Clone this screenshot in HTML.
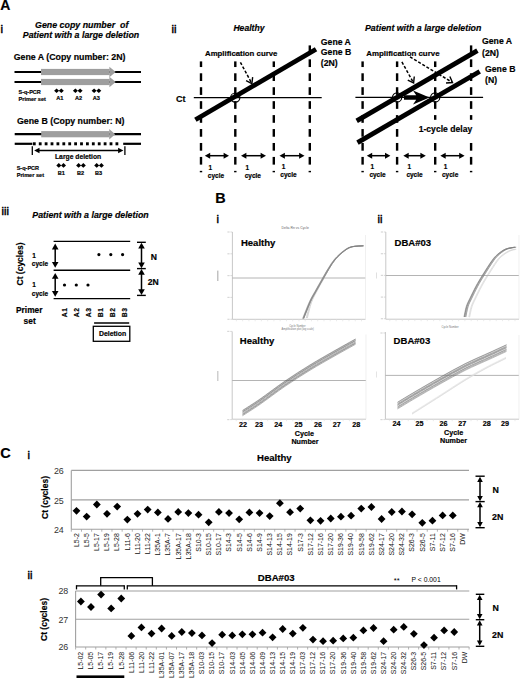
<!DOCTYPE html>
<html><head><meta charset="utf-8"><style>
html,body{margin:0;padding:0;background:#fff;}
body{width:520px;height:678px;overflow:hidden;}
svg{display:block;font-family:"Liberation Sans", sans-serif;}
</style></head><body>
<svg width="520" height="678" viewBox="0 0 520 678" font-family='"Liberation Sans", sans-serif'>
<rect width="520" height="678" fill="#fff"/>
<text x="0.3" y="10.4" font-size="14" font-weight="bold" font-style="normal" text-anchor="start" fill="#000" stroke="#000" stroke-width="0.18" >A</text>
<text x="0.6" y="32.9" font-size="11.5" font-weight="normal" font-style="normal" text-anchor="start" fill="#000" stroke="#000" stroke-width="0.45">i</text>
<text x="35" y="27.5" font-size="8.85" font-weight="bold" font-style="italic" text-anchor="start" fill="#000" stroke="#000" stroke-width="0.18" >Gene copy number  of</text>
<text x="22.8" y="38" font-size="8.8" font-weight="bold" font-style="italic" text-anchor="start" fill="#000" stroke="#000" stroke-width="0.18" >Patient with a large deletion</text>
<text x="13.7" y="59.8" font-size="8.8" font-weight="bold" font-style="normal" text-anchor="start" fill="#000" stroke="#000" stroke-width="0.18" >Gene A (Copy number: 2N)</text>
<line x1="14.5" y1="72" x2="141" y2="72" stroke="#000" stroke-width="2.2" />
<rect x="41" y="68.9" width="68.6" height="6.2" fill="#9e9e9e" />
<polygon points="109.40,66.80 115.70,72.00 109.40,77.20" fill="#9e9e9e" />
<line x1="14.5" y1="82" x2="141" y2="82" stroke="#000" stroke-width="2.2" />
<rect x="41" y="78.9" width="68.6" height="6.2" fill="#9e9e9e" />
<polygon points="109.40,76.80 115.70,82.00 109.40,87.20" fill="#9e9e9e" />
<text x="18.5" y="93.5" font-size="5.5" font-weight="bold" font-style="normal" text-anchor="start" fill="#000" stroke="#000" stroke-width="0.18" >S-q-PCR</text>
<text x="18.5" y="100.9" font-size="5.6" font-weight="bold" font-style="normal" text-anchor="start" fill="#000" stroke="#000" stroke-width="0.18" >Primer set</text>
<polygon points="56.60,88.50 59.10,90.80 56.60,93.10 54.10,90.80" fill="#000" />
<polygon points="61.30,88.50 63.80,90.80 61.30,93.10 58.80,90.80" fill="#000" />
<text x="56.2" y="99.7" font-size="5.6" font-weight="bold" font-style="normal" text-anchor="start" fill="#000" stroke="#000" stroke-width="0.18" >A1</text>
<polygon points="75.40,88.50 77.90,90.80 75.40,93.10 72.90,90.80" fill="#000" />
<polygon points="80.10,88.50 82.60,90.80 80.10,93.10 77.60,90.80" fill="#000" />
<text x="75.0" y="99.7" font-size="5.6" font-weight="bold" font-style="normal" text-anchor="start" fill="#000" stroke="#000" stroke-width="0.18" >A2</text>
<polygon points="94.10,88.50 96.60,90.80 94.10,93.10 91.60,90.80" fill="#000" />
<polygon points="98.80,88.50 101.30,90.80 98.80,93.10 96.30,90.80" fill="#000" />
<text x="92.7" y="99.7" font-size="5.6" font-weight="bold" font-style="normal" text-anchor="start" fill="#000" stroke="#000" stroke-width="0.18" >A3</text>
<text x="17" y="123.5" font-size="8.8" font-weight="bold" font-style="normal" text-anchor="start" fill="#000" stroke="#000" stroke-width="0.18" >Gene B (Copy number: N)</text>
<line x1="14.7" y1="134.2" x2="141" y2="134.2" stroke="#000" stroke-width="2.2" />
<rect x="41.2" y="131.1" width="68.0" height="6.2" fill="#9e9e9e" />
<polygon points="109.20,129.00 115.20,134.20 109.20,139.40" fill="#9e9e9e" />
<line x1="14.7" y1="143.8" x2="32.3" y2="143.8" stroke="#000" stroke-width="2.2" />
<line x1="123.2" y1="143.8" x2="141" y2="143.8" stroke="#000" stroke-width="2.2" />
<rect x="32.9" y="142.3" width="2.8" height="3.0" fill="#000" />
<rect x="38.8" y="142.3" width="2.8" height="3.0" fill="#000" />
<rect x="44.699999999999996" y="142.3" width="2.8" height="3.0" fill="#000" />
<rect x="50.599999999999994" y="142.3" width="2.8" height="3.0" fill="#000" />
<rect x="56.49999999999999" y="142.3" width="2.8" height="3.0" fill="#000" />
<rect x="62.39999999999999" y="142.3" width="2.8" height="3.0" fill="#000" />
<rect x="68.3" y="142.3" width="2.8" height="3.0" fill="#000" />
<rect x="74.2" y="142.3" width="2.8" height="3.0" fill="#000" />
<rect x="80.10000000000001" y="142.3" width="2.8" height="3.0" fill="#000" />
<rect x="86.00000000000001" y="142.3" width="2.8" height="3.0" fill="#000" />
<rect x="91.90000000000002" y="142.3" width="2.8" height="3.0" fill="#000" />
<rect x="97.80000000000003" y="142.3" width="2.8" height="3.0" fill="#000" />
<rect x="103.70000000000003" y="142.3" width="2.8" height="3.0" fill="#000" />
<rect x="109.60000000000004" y="142.3" width="2.8" height="3.0" fill="#000" />
<rect x="115.50000000000004" y="142.3" width="2.8" height="3.0" fill="#000" />
<line x1="32.3" y1="146.2" x2="32.3" y2="155" stroke="#000" stroke-width="1.3" />
<line x1="124.9" y1="146.2" x2="124.9" y2="155" stroke="#000" stroke-width="1.3" />
<line x1="38.440000000000005" y1="150.5" x2="119.16000000000001" y2="150.5" stroke="#000" stroke-width="1.5" />
<polygon points="123.40,150.50 118.10,147.80 118.10,153.20" fill="#000" />
<polygon points="34.20,150.50 39.50,147.80 39.50,153.20" fill="#000" />
<text x="55" y="159" font-size="6.75" font-weight="bold" font-style="normal" text-anchor="start" fill="#000" stroke="#000" stroke-width="0.18" >Large deletion</text>
<text x="16.7" y="170" font-size="5.5" font-weight="bold" font-style="normal" text-anchor="start" fill="#000" stroke="#000" stroke-width="0.18" >S-q-PCR</text>
<text x="16.7" y="176.6" font-size="5.6" font-weight="bold" font-style="normal" text-anchor="start" fill="#000" stroke="#000" stroke-width="0.18" >Primer set</text>
<polygon points="58.80,163.10 61.30,165.40 58.80,167.70 56.30,165.40" fill="#000" />
<polygon points="63.50,163.10 66.00,165.40 63.50,167.70 61.00,165.40" fill="#000" />
<text x="57.8" y="175.2" font-size="5.6" font-weight="bold" font-style="normal" text-anchor="start" fill="#000" stroke="#000" stroke-width="0.18" >B1</text>
<polygon points="78.60,163.10 81.10,165.40 78.60,167.70 76.10,165.40" fill="#000" />
<polygon points="83.30,163.10 85.80,165.40 83.30,167.70 80.80,165.40" fill="#000" />
<text x="77.0" y="175.2" font-size="5.6" font-weight="bold" font-style="normal" text-anchor="start" fill="#000" stroke="#000" stroke-width="0.18" >B2</text>
<polygon points="96.70,163.10 99.20,165.40 96.70,167.70 94.20,165.40" fill="#000" />
<polygon points="101.40,163.10 103.90,165.40 101.40,167.70 98.90,165.40" fill="#000" />
<text x="95.0" y="175.2" font-size="5.6" font-weight="bold" font-style="normal" text-anchor="start" fill="#000" stroke="#000" stroke-width="0.18" >B3</text>
<text x="171.6" y="33.3" font-size="11.3" font-weight="normal" font-style="normal" text-anchor="start" fill="#000" stroke="#000" stroke-width="0.45">ii</text>
<text x="233.4" y="31.2" font-size="8.6" font-weight="bold" font-style="italic" text-anchor="start" fill="#000" stroke="#000" stroke-width="0.18" >Healthy</text>
<text x="205" y="56.1" font-size="7.8" font-weight="bold" font-style="normal" text-anchor="start" fill="#000" stroke="#000" stroke-width="0.18" >Amplification curve</text>
<rect x="199.8" y="61.4" width="2.4" height="5.6399999999999935" fill="#000" />
<rect x="199.8" y="73.28" width="2.4" height="7.700000000000003" fill="#000" />
<rect x="199.8" y="87.22" width="2.4" height="7.700000000000003" fill="#000" />
<rect x="199.8" y="101.16" width="2.4" height="7.700000000000003" fill="#000" />
<rect x="199.8" y="115.1" width="2.4" height="7.700000000000003" fill="#000" />
<rect x="199.8" y="129.04" width="2.4" height="7.699999999999989" fill="#000" />
<rect x="199.8" y="142.98" width="2.4" height="7.699999999999989" fill="#000" />
<rect x="199.8" y="156.92" width="2.4" height="7.699999999999989" fill="#000" />
<rect x="199.8" y="170.85999999999999" width="2.4" height="1.4400000000000261" fill="#000" />
<rect x="234.10000000000002" y="61.4" width="2.4" height="5.6399999999999935" fill="#000" />
<rect x="234.10000000000002" y="73.28" width="2.4" height="7.700000000000003" fill="#000" />
<rect x="234.10000000000002" y="87.22" width="2.4" height="7.700000000000003" fill="#000" />
<rect x="234.10000000000002" y="101.16" width="2.4" height="7.700000000000003" fill="#000" />
<rect x="234.10000000000002" y="115.1" width="2.4" height="7.700000000000003" fill="#000" />
<rect x="234.10000000000002" y="129.04" width="2.4" height="7.699999999999989" fill="#000" />
<rect x="234.10000000000002" y="142.98" width="2.4" height="7.699999999999989" fill="#000" />
<rect x="234.10000000000002" y="156.92" width="2.4" height="7.699999999999989" fill="#000" />
<rect x="234.10000000000002" y="170.85999999999999" width="2.4" height="1.4400000000000261" fill="#000" />
<rect x="272.6" y="61.4" width="2.4" height="5.6399999999999935" fill="#000" />
<rect x="272.6" y="73.28" width="2.4" height="7.700000000000003" fill="#000" />
<rect x="272.6" y="87.22" width="2.4" height="7.700000000000003" fill="#000" />
<rect x="272.6" y="101.16" width="2.4" height="7.700000000000003" fill="#000" />
<rect x="272.6" y="115.1" width="2.4" height="7.700000000000003" fill="#000" />
<rect x="272.6" y="129.04" width="2.4" height="7.699999999999989" fill="#000" />
<rect x="272.6" y="142.98" width="2.4" height="7.699999999999989" fill="#000" />
<rect x="272.6" y="156.92" width="2.4" height="7.699999999999989" fill="#000" />
<rect x="272.6" y="170.85999999999999" width="2.4" height="1.4400000000000261" fill="#000" />
<rect x="308.6" y="45.4" width="2.4" height="7.700000000000003" fill="#000" />
<rect x="308.6" y="59.339999999999996" width="2.4" height="7.699999999999996" fill="#000" />
<rect x="308.6" y="73.28" width="2.4" height="7.700000000000003" fill="#000" />
<rect x="308.6" y="87.22" width="2.4" height="7.700000000000003" fill="#000" />
<rect x="308.6" y="101.16" width="2.4" height="7.700000000000003" fill="#000" />
<rect x="308.6" y="115.1" width="2.4" height="7.700000000000003" fill="#000" />
<rect x="308.6" y="129.04" width="2.4" height="7.699999999999989" fill="#000" />
<rect x="308.6" y="142.98" width="2.4" height="7.699999999999989" fill="#000" />
<rect x="308.6" y="156.92" width="2.4" height="7.699999999999989" fill="#000" />
<rect x="308.6" y="170.85999999999999" width="2.4" height="1.4400000000000261" fill="#000" />
<text x="176" y="101.7" font-size="9" font-weight="bold" font-style="normal" text-anchor="start" fill="#000" stroke="#000" stroke-width="0.18" >Ct</text>
<line x1="193.8" y1="97.6" x2="321.7" y2="97.6" stroke="#000" stroke-width="1.1" />
<line x1="195.4" y1="119.8" x2="316" y2="49.2" stroke="#000" stroke-width="4.8" />
<circle cx="235.3" cy="97.6" r="4.6" fill="none" stroke="#000" stroke-width="1.2"/>
<line x1="240.4" y1="62.3" x2="251.61494903382723" y2="83.07203603656691" stroke="#000" stroke-width="1.5" stroke-dasharray="3 1.8"/>
<polyline points="252.65,77.14 251.9,83.6 246.09,80.69" fill="none" stroke="#000" stroke-width="1.4" stroke-linejoin="miter"/>
<text x="320.8" y="44.6" font-size="8.7" font-weight="bold" font-style="normal" text-anchor="start" fill="#000" stroke="#000" stroke-width="0.18" >Gene A</text>
<text x="320.8" y="55.2" font-size="8.7" font-weight="bold" font-style="normal" text-anchor="start" fill="#000" stroke="#000" stroke-width="0.18" >Gene B</text>
<text x="320.8" y="65.8" font-size="8.7" font-weight="bold" font-style="normal" text-anchor="start" fill="#000" stroke="#000" stroke-width="0.18" >(2N)</text>
<line x1="209.12" y1="155.7" x2="224.68" y2="155.7" stroke="#000" stroke-width="1.5" />
<polygon points="229.00,155.70 223.60,152.70 223.60,158.70" fill="#000" />
<polygon points="204.80,155.70 210.20,152.70 210.20,158.70" fill="#000" />
<line x1="245.32" y1="155.7" x2="261.68" y2="155.7" stroke="#000" stroke-width="1.5" />
<polygon points="266.00,155.70 260.60,152.70 260.60,158.70" fill="#000" />
<polygon points="241.00,155.70 246.40,152.70 246.40,158.70" fill="#000" />
<line x1="283.82" y1="155.7" x2="300.18" y2="155.7" stroke="#000" stroke-width="1.5" />
<polygon points="304.50,155.70 299.10,152.70 299.10,158.70" fill="#000" />
<polygon points="279.50,155.70 284.90,152.70 284.90,158.70" fill="#000" />
<text x="208.6" y="169.9" font-size="6.5" font-weight="bold" font-style="normal" text-anchor="start" fill="#000" stroke="#000" stroke-width="0.18" >1</text>
<text x="207.8" y="178" font-size="6.5" font-weight="bold" font-style="normal" text-anchor="start" fill="#000" stroke="#000" stroke-width="0.18" >cycle</text>
<text x="245.5" y="169.9" font-size="6.5" font-weight="bold" font-style="normal" text-anchor="start" fill="#000" stroke="#000" stroke-width="0.18" >1</text>
<text x="244.7" y="178" font-size="6.5" font-weight="bold" font-style="normal" text-anchor="start" fill="#000" stroke="#000" stroke-width="0.18" >cycle</text>
<text x="281.8" y="168.9" font-size="6.5" font-weight="bold" font-style="normal" text-anchor="start" fill="#000" stroke="#000" stroke-width="0.18" >1</text>
<text x="280.3" y="177" font-size="6.5" font-weight="bold" font-style="normal" text-anchor="start" fill="#000" stroke="#000" stroke-width="0.18" >cycle</text>
<text x="365" y="31" font-size="8.8" font-weight="bold" font-style="italic" text-anchor="start" fill="#000" stroke="#000" stroke-width="0.18" >Patient with a large deletion</text>
<text x="366.3" y="55.8" font-size="7.9" font-weight="bold" font-style="normal" text-anchor="start" fill="#000" stroke="#000" stroke-width="0.18" >Amplification curve</text>
<rect x="361.40000000000003" y="61.4" width="2.4" height="5.6399999999999935" fill="#000" />
<rect x="361.40000000000003" y="73.28" width="2.4" height="7.700000000000003" fill="#000" />
<rect x="361.40000000000003" y="87.22" width="2.4" height="7.700000000000003" fill="#000" />
<rect x="361.40000000000003" y="101.16" width="2.4" height="7.700000000000003" fill="#000" />
<rect x="361.40000000000003" y="115.1" width="2.4" height="7.700000000000003" fill="#000" />
<rect x="361.40000000000003" y="129.04" width="2.4" height="7.699999999999989" fill="#000" />
<rect x="361.40000000000003" y="142.98" width="2.4" height="7.699999999999989" fill="#000" />
<rect x="361.40000000000003" y="156.92" width="2.4" height="7.699999999999989" fill="#000" />
<rect x="361.40000000000003" y="170.85999999999999" width="2.4" height="1.4400000000000261" fill="#000" />
<rect x="395.90000000000003" y="61.4" width="2.4" height="5.6399999999999935" fill="#000" />
<rect x="395.90000000000003" y="73.28" width="2.4" height="7.700000000000003" fill="#000" />
<rect x="395.90000000000003" y="87.22" width="2.4" height="7.700000000000003" fill="#000" />
<rect x="395.90000000000003" y="101.16" width="2.4" height="7.700000000000003" fill="#000" />
<rect x="395.90000000000003" y="115.1" width="2.4" height="7.700000000000003" fill="#000" />
<rect x="395.90000000000003" y="129.04" width="2.4" height="7.699999999999989" fill="#000" />
<rect x="395.90000000000003" y="142.98" width="2.4" height="7.699999999999989" fill="#000" />
<rect x="395.90000000000003" y="156.92" width="2.4" height="7.699999999999989" fill="#000" />
<rect x="395.90000000000003" y="170.85999999999999" width="2.4" height="1.4400000000000261" fill="#000" />
<rect x="434.0" y="61.4" width="2.4" height="5.6399999999999935" fill="#000" />
<rect x="434.0" y="73.28" width="2.4" height="7.700000000000003" fill="#000" />
<rect x="434.0" y="87.22" width="2.4" height="7.700000000000003" fill="#000" />
<rect x="434.0" y="101.16" width="2.4" height="7.700000000000003" fill="#000" />
<rect x="434.0" y="115.1" width="2.4" height="7.700000000000003" fill="#000" />
<rect x="434.0" y="129.04" width="2.4" height="7.699999999999989" fill="#000" />
<rect x="434.0" y="142.98" width="2.4" height="7.699999999999989" fill="#000" />
<rect x="434.0" y="156.92" width="2.4" height="7.699999999999989" fill="#000" />
<rect x="434.0" y="170.85999999999999" width="2.4" height="1.4400000000000261" fill="#000" />
<rect x="469.90000000000003" y="45.4" width="2.4" height="7.700000000000003" fill="#000" />
<rect x="469.90000000000003" y="59.339999999999996" width="2.4" height="7.699999999999996" fill="#000" />
<rect x="469.90000000000003" y="73.28" width="2.4" height="7.700000000000003" fill="#000" />
<rect x="469.90000000000003" y="87.22" width="2.4" height="7.700000000000003" fill="#000" />
<rect x="469.90000000000003" y="101.16" width="2.4" height="7.700000000000003" fill="#000" />
<rect x="469.90000000000003" y="115.1" width="2.4" height="7.700000000000003" fill="#000" />
<rect x="469.90000000000003" y="129.04" width="2.4" height="7.699999999999989" fill="#000" />
<rect x="469.90000000000003" y="142.98" width="2.4" height="7.699999999999989" fill="#000" />
<rect x="469.90000000000003" y="156.92" width="2.4" height="7.699999999999989" fill="#000" />
<rect x="469.90000000000003" y="170.85999999999999" width="2.4" height="1.4400000000000261" fill="#000" />
<line x1="355.4" y1="97.4" x2="483.1" y2="97.4" stroke="#000" stroke-width="1.1" />
<line x1="356.7" y1="120.91280000000003" x2="477.4" y2="50.665400000000034" stroke="#000" stroke-width="4.8" />
<line x1="357.5" y1="142.6214" x2="479.7" y2="71.501" stroke="#000" stroke-width="4.8" />
<circle cx="397.1" cy="97.4" r="4.6" fill="none" stroke="#000" stroke-width="1.2"/>
<circle cx="435.2" cy="97.4" r="4.6" fill="none" stroke="#000" stroke-width="1.2"/>
<polygon points="404.00,95.30 416.20,95.30 413.00,90.40 429.50,97.50 413.00,104.60 416.20,99.70 404.00,99.70" fill="#000" />
<line x1="401.9" y1="61.9" x2="413.3090366338055" y2="82.47527119429868" stroke="#000" stroke-width="1.5" stroke-dasharray="3 1.8"/>
<polyline points="414.28,76.54 413.6,83.0 407.76,80.15" fill="none" stroke="#000" stroke-width="1.4" stroke-linejoin="miter"/>
<line x1="410.0" y1="56.9" x2="451.9860385369942" y2="82.1904138011071" stroke="#000" stroke-width="1.5" stroke-dasharray="3 1.8"/>
<polyline points="449.86,76.56 452.5,82.5 446.02,82.95" fill="none" stroke="#000" stroke-width="1.4" stroke-linejoin="miter"/>
<text x="482" y="44.2" font-size="8.7" font-weight="bold" font-style="normal" text-anchor="start" fill="#000" stroke="#000" stroke-width="0.18" >Gene A</text>
<text x="482" y="55.8" font-size="8.7" font-weight="bold" font-style="normal" text-anchor="start" fill="#000" stroke="#000" stroke-width="0.18" >(2N)</text>
<text x="485" y="72" font-size="8.7" font-weight="bold" font-style="normal" text-anchor="start" fill="#000" stroke="#000" stroke-width="0.18" >Gene B</text>
<text x="485" y="82.8" font-size="8.7" font-weight="bold" font-style="normal" text-anchor="start" fill="#000" stroke="#000" stroke-width="0.18" >(N)</text>
<rect x="417" y="119.8" width="58" height="22.8" fill="#fff" />
<text x="418.7" y="131.9" font-size="8.6" font-weight="bold" font-style="normal" text-anchor="start" fill="#000" stroke="#000" stroke-width="0.18" >1-cycle delay</text>
<line x1="371.12" y1="155.7" x2="386.08" y2="155.7" stroke="#000" stroke-width="1.5" />
<polygon points="390.40,155.70 385.00,152.70 385.00,158.70" fill="#000" />
<polygon points="366.80,155.70 372.20,152.70 372.20,158.70" fill="#000" />
<line x1="407.62" y1="155.7" x2="421.48" y2="155.7" stroke="#000" stroke-width="1.5" />
<polygon points="425.80,155.70 420.40,152.70 420.40,158.70" fill="#000" />
<polygon points="403.30,155.70 408.70,152.70 408.70,158.70" fill="#000" />
<line x1="444.62" y1="155.7" x2="460.28000000000003" y2="155.7" stroke="#000" stroke-width="1.5" />
<polygon points="464.60,155.70 459.20,152.70 459.20,158.70" fill="#000" />
<polygon points="440.30,155.70 445.70,152.70 445.70,158.70" fill="#000" />
<text x="370.4" y="169.3" font-size="6.5" font-weight="bold" font-style="normal" text-anchor="start" fill="#000" stroke="#000" stroke-width="0.18" >1</text>
<text x="369.4" y="177.4" font-size="6.5" font-weight="bold" font-style="normal" text-anchor="start" fill="#000" stroke="#000" stroke-width="0.18" >cycle</text>
<text x="407.5" y="169.3" font-size="6.5" font-weight="bold" font-style="normal" text-anchor="start" fill="#000" stroke="#000" stroke-width="0.18" >1</text>
<text x="406.4" y="177.4" font-size="6.5" font-weight="bold" font-style="normal" text-anchor="start" fill="#000" stroke="#000" stroke-width="0.18" >cycle</text>
<text x="443.8" y="168.5" font-size="6.5" font-weight="bold" font-style="normal" text-anchor="start" fill="#000" stroke="#000" stroke-width="0.18" >1</text>
<text x="442.0" y="176.6" font-size="6.5" font-weight="bold" font-style="normal" text-anchor="start" fill="#000" stroke="#000" stroke-width="0.18" >cycle</text>
<text x="1.5" y="214.6" font-size="11" font-weight="normal" font-style="normal" text-anchor="start" fill="#000" stroke="#000" stroke-width="0.45">iii</text>
<text x="32.3" y="217.8" font-size="8.8" font-weight="bold" font-style="italic" text-anchor="start" fill="#000" stroke="#000" stroke-width="0.18" >Patient with a large deletion</text>
<line x1="53.6" y1="241.4" x2="130.2" y2="241.4" stroke="#000" stroke-width="1.4" />
<line x1="53.6" y1="270.2" x2="130.2" y2="270.2" stroke="#000" stroke-width="1.4" />
<line x1="53.6" y1="298.6" x2="130.2" y2="298.6" stroke="#000" stroke-width="1.4" />
<line x1="55.2" y1="248.23999999999998" x2="55.2" y2="263.16" stroke="#000" stroke-width="1.5" />
<polygon points="55.20,243.60 51.90,249.40 58.50,249.40" fill="#000" />
<polygon points="55.20,267.80 51.90,262.00 58.50,262.00" fill="#000" />
<line x1="55.2" y1="277.64" x2="55.2" y2="292.16" stroke="#000" stroke-width="1.5" />
<polygon points="55.20,273.00 51.90,278.80 58.50,278.80" fill="#000" />
<polygon points="55.20,296.80 51.90,291.00 58.50,291.00" fill="#000" />
<text x="32.3" y="258.0" font-size="6.5" font-weight="bold" font-style="normal" text-anchor="start" fill="#000" stroke="#000" stroke-width="0.18" >1</text>
<text x="31.8" y="266.3" font-size="6.5" font-weight="bold" font-style="normal" text-anchor="start" fill="#000" stroke="#000" stroke-width="0.18" >cycle</text>
<text x="32.3" y="287.2" font-size="6.5" font-weight="bold" font-style="normal" text-anchor="start" fill="#000" stroke="#000" stroke-width="0.18" >1</text>
<text x="31.8" y="295.9" font-size="6.5" font-weight="bold" font-style="normal" text-anchor="start" fill="#000" stroke="#000" stroke-width="0.18" >cycle</text>
<circle cx="98.9" cy="254.6" r="1.6" fill="#000"/>
<circle cx="110.8" cy="254.6" r="1.6" fill="#000"/>
<circle cx="122.6" cy="254.6" r="1.6" fill="#000"/>
<circle cx="64.5" cy="285" r="1.6" fill="#000"/>
<circle cx="76.3" cy="285" r="1.6" fill="#000"/>
<circle cx="88.0" cy="285" r="1.6" fill="#000"/>
<line x1="137" y1="242.3" x2="145.8" y2="242.3" stroke="#000" stroke-width="1.4" />
<line x1="137" y1="268.6" x2="145.8" y2="268.6" stroke="#000" stroke-width="1.4" />
<line x1="137" y1="295.4" x2="145.8" y2="295.4" stroke="#000" stroke-width="1.4" />
<line x1="141.5" y1="247.44" x2="141.5" y2="263.56" stroke="#000" stroke-width="1.5" />
<polygon points="141.50,242.80 138.20,248.60 144.80,248.60" fill="#000" />
<polygon points="141.50,268.20 138.20,262.40 144.80,262.40" fill="#000" />
<line x1="141.5" y1="273.64" x2="141.5" y2="290.36" stroke="#000" stroke-width="1.5" />
<polygon points="141.50,269.00 138.20,274.80 144.80,274.80" fill="#000" />
<polygon points="141.50,295.00 138.20,289.20 144.80,289.20" fill="#000" />
<text x="150.8" y="259.5" font-size="8.6" font-weight="bold" font-style="normal" text-anchor="start" fill="#000" stroke="#000" stroke-width="0.18" >N</text>
<text x="147.7" y="284.6" font-size="8.6" font-weight="bold" font-style="normal" text-anchor="start" fill="#000" stroke="#000" stroke-width="0.18" >2N</text>
<text transform="translate(22.6,285.5) rotate(-90)" font-size="8.5" font-weight="bold" stroke="#000" stroke-width="0.18">Ct (cycles)</text>
<text x="16" y="313" font-size="8.4" font-weight="bold" font-style="normal" text-anchor="start" fill="#000" stroke="#000" stroke-width="0.18" >Primer</text>
<text x="23.6" y="323.8" font-size="8.4" font-weight="bold" font-style="normal" text-anchor="start" fill="#000" stroke="#000" stroke-width="0.18" >set</text>
<text transform="translate(67.10000000000001,317.3) rotate(-90)" font-size="6.8" font-weight="bold" letter-spacing="0.6" stroke="#000" stroke-width="0.18">A1</text>
<text transform="translate(79.2,317.3) rotate(-90)" font-size="6.8" font-weight="bold" letter-spacing="0.6" stroke="#000" stroke-width="0.18">A2</text>
<text transform="translate(91.30000000000001,317.3) rotate(-90)" font-size="6.8" font-weight="bold" letter-spacing="0.6" stroke="#000" stroke-width="0.18">A3</text>
<text transform="translate(102.60000000000001,317.3) rotate(-90)" font-size="6.8" font-weight="bold" letter-spacing="0.6" stroke="#000" stroke-width="0.18">B1</text>
<text transform="translate(114.7,317.3) rotate(-90)" font-size="6.8" font-weight="bold" letter-spacing="0.6" stroke="#000" stroke-width="0.18">B2</text>
<text transform="translate(126.80000000000001,317.3) rotate(-90)" font-size="6.8" font-weight="bold" letter-spacing="0.6" stroke="#000" stroke-width="0.18">B3</text>
<line x1="94.1" y1="323" x2="129.2" y2="323" stroke="#000" stroke-width="1.5" />
<rect x="93.3" y="326.3" width="36.5" height="15" fill="none" stroke="#000" stroke-width="1.3"/>
<text x="99" y="335.6" font-size="6.9" font-weight="bold" font-style="normal" text-anchor="start" fill="#000" stroke="#000" stroke-width="0.18" >Deletion</text>
<text x="215.2" y="203.3" font-size="14.4" font-weight="bold" font-style="normal" text-anchor="start" fill="#000" stroke="#000" stroke-width="0.18" >B</text>
<text x="216.5" y="222.8" font-size="11" font-weight="normal" font-style="normal" text-anchor="start" fill="#000" stroke="#000" stroke-width="0.45">i</text>
<text x="377.5" y="222.8" font-size="11" font-weight="normal" font-style="normal" text-anchor="start" fill="#000" stroke="#000" stroke-width="0.45">ii</text>
<line x1="232.4" y1="232" x2="232.4" y2="319.3" stroke="#c8c8c8" stroke-width="1.0" />
<line x1="232.4" y1="319.3" x2="365.5" y2="319.3" stroke="#c8c8c8" stroke-width="1.0" />
<line x1="232.4" y1="278.0" x2="365.5" y2="278.0" stroke="#ababab" stroke-width="0.9" />
<line x1="365.5" y1="235" x2="365.5" y2="319.3" stroke="#e6e6e6" stroke-width="0.6" />
<line x1="230.4" y1="232" x2="232.4" y2="232" stroke="#c8c8c8" stroke-width="0.7" />
<rect x="227.4" y="231.4" width="2.2" height="1.2" fill="#d8d8d8" />
<line x1="230.4" y1="253.8" x2="232.4" y2="253.8" stroke="#c8c8c8" stroke-width="0.7" />
<rect x="227.4" y="253.20000000000002" width="2.2" height="1.2" fill="#d8d8d8" />
<line x1="230.4" y1="275.6" x2="232.4" y2="275.6" stroke="#c8c8c8" stroke-width="0.7" />
<rect x="227.4" y="275.0" width="2.2" height="1.2" fill="#d8d8d8" />
<line x1="230.4" y1="297.4" x2="232.4" y2="297.4" stroke="#c8c8c8" stroke-width="0.7" />
<rect x="227.4" y="296.79999999999995" width="2.2" height="1.2" fill="#d8d8d8" />
<line x1="230.4" y1="319.3" x2="232.4" y2="319.3" stroke="#c8c8c8" stroke-width="0.7" />
<rect x="227.4" y="318.7" width="2.2" height="1.2" fill="#d8d8d8" />
<line x1="236.4" y1="319.3" x2="236.4" y2="321.3" stroke="#dedede" stroke-width="0.6" />
<line x1="242.655" y1="319.3" x2="242.655" y2="321.3" stroke="#dedede" stroke-width="0.6" />
<line x1="248.91" y1="319.3" x2="248.91" y2="321.3" stroke="#dedede" stroke-width="0.6" />
<line x1="255.165" y1="319.3" x2="255.165" y2="321.3" stroke="#dedede" stroke-width="0.6" />
<line x1="261.42" y1="319.3" x2="261.42" y2="321.3" stroke="#dedede" stroke-width="0.6" />
<line x1="267.675" y1="319.3" x2="267.675" y2="321.3" stroke="#dedede" stroke-width="0.6" />
<line x1="273.93" y1="319.3" x2="273.93" y2="321.3" stroke="#dedede" stroke-width="0.6" />
<line x1="280.185" y1="319.3" x2="280.185" y2="321.3" stroke="#dedede" stroke-width="0.6" />
<line x1="286.44" y1="319.3" x2="286.44" y2="321.3" stroke="#dedede" stroke-width="0.6" />
<line x1="292.695" y1="319.3" x2="292.695" y2="321.3" stroke="#dedede" stroke-width="0.6" />
<line x1="298.95" y1="319.3" x2="298.95" y2="321.3" stroke="#dedede" stroke-width="0.6" />
<line x1="305.205" y1="319.3" x2="305.205" y2="321.3" stroke="#dedede" stroke-width="0.6" />
<line x1="311.46" y1="319.3" x2="311.46" y2="321.3" stroke="#dedede" stroke-width="0.6" />
<line x1="317.71500000000003" y1="319.3" x2="317.71500000000003" y2="321.3" stroke="#dedede" stroke-width="0.6" />
<line x1="323.97" y1="319.3" x2="323.97" y2="321.3" stroke="#dedede" stroke-width="0.6" />
<line x1="330.225" y1="319.3" x2="330.225" y2="321.3" stroke="#dedede" stroke-width="0.6" />
<line x1="336.48" y1="319.3" x2="336.48" y2="321.3" stroke="#dedede" stroke-width="0.6" />
<line x1="342.735" y1="319.3" x2="342.735" y2="321.3" stroke="#dedede" stroke-width="0.6" />
<line x1="348.99" y1="319.3" x2="348.99" y2="321.3" stroke="#dedede" stroke-width="0.6" />
<line x1="355.245" y1="319.3" x2="355.245" y2="321.3" stroke="#dedede" stroke-width="0.6" />
<line x1="361.5" y1="319.3" x2="361.5" y2="321.3" stroke="#dedede" stroke-width="0.6" />
<text x="281.5" y="229.3" font-size="3.45" font-weight="normal" font-style="normal" text-anchor="start" fill="#666" >Delta Rn vs Cycle</text>
<text x="240.9" y="246.2" font-size="9.55" font-weight="bold" font-style="normal" text-anchor="start" fill="#000" stroke="#000" stroke-width="0.18" >Healthy</text>
<line x1="385.8" y1="232" x2="385.8" y2="319.2" stroke="#c8c8c8" stroke-width="1.0" />
<line x1="385.8" y1="319.2" x2="519" y2="319.2" stroke="#c8c8c8" stroke-width="1.0" />
<line x1="385.8" y1="275.5" x2="519" y2="275.5" stroke="#ababab" stroke-width="0.9" />
<line x1="519" y1="235" x2="519" y2="319.2" stroke="#e6e6e6" stroke-width="0.6" />
<line x1="383.8" y1="232" x2="385.8" y2="232" stroke="#c8c8c8" stroke-width="0.7" />
<rect x="380.8" y="231.4" width="2.2" height="1.2" fill="#d8d8d8" />
<line x1="383.8" y1="253.7" x2="385.8" y2="253.7" stroke="#c8c8c8" stroke-width="0.7" />
<rect x="380.8" y="253.1" width="2.2" height="1.2" fill="#d8d8d8" />
<line x1="383.8" y1="275.4" x2="385.8" y2="275.4" stroke="#c8c8c8" stroke-width="0.7" />
<rect x="380.8" y="274.79999999999995" width="2.2" height="1.2" fill="#d8d8d8" />
<line x1="383.8" y1="297.1" x2="385.8" y2="297.1" stroke="#c8c8c8" stroke-width="0.7" />
<rect x="380.8" y="296.5" width="2.2" height="1.2" fill="#d8d8d8" />
<line x1="383.8" y1="318.7" x2="385.8" y2="318.7" stroke="#c8c8c8" stroke-width="0.7" />
<rect x="380.8" y="318.09999999999997" width="2.2" height="1.2" fill="#d8d8d8" />
<line x1="389.8" y1="319.2" x2="389.8" y2="321.2" stroke="#dedede" stroke-width="0.6" />
<line x1="396.06" y1="319.2" x2="396.06" y2="321.2" stroke="#dedede" stroke-width="0.6" />
<line x1="402.32" y1="319.2" x2="402.32" y2="321.2" stroke="#dedede" stroke-width="0.6" />
<line x1="408.58" y1="319.2" x2="408.58" y2="321.2" stroke="#dedede" stroke-width="0.6" />
<line x1="414.84000000000003" y1="319.2" x2="414.84000000000003" y2="321.2" stroke="#dedede" stroke-width="0.6" />
<line x1="421.1" y1="319.2" x2="421.1" y2="321.2" stroke="#dedede" stroke-width="0.6" />
<line x1="427.36" y1="319.2" x2="427.36" y2="321.2" stroke="#dedede" stroke-width="0.6" />
<line x1="433.62" y1="319.2" x2="433.62" y2="321.2" stroke="#dedede" stroke-width="0.6" />
<line x1="439.88" y1="319.2" x2="439.88" y2="321.2" stroke="#dedede" stroke-width="0.6" />
<line x1="446.14" y1="319.2" x2="446.14" y2="321.2" stroke="#dedede" stroke-width="0.6" />
<line x1="452.40000000000003" y1="319.2" x2="452.40000000000003" y2="321.2" stroke="#dedede" stroke-width="0.6" />
<line x1="458.65999999999997" y1="319.2" x2="458.65999999999997" y2="321.2" stroke="#dedede" stroke-width="0.6" />
<line x1="464.92" y1="319.2" x2="464.92" y2="321.2" stroke="#dedede" stroke-width="0.6" />
<line x1="471.18" y1="319.2" x2="471.18" y2="321.2" stroke="#dedede" stroke-width="0.6" />
<line x1="477.44" y1="319.2" x2="477.44" y2="321.2" stroke="#dedede" stroke-width="0.6" />
<line x1="483.7" y1="319.2" x2="483.7" y2="321.2" stroke="#dedede" stroke-width="0.6" />
<line x1="489.96000000000004" y1="319.2" x2="489.96000000000004" y2="321.2" stroke="#dedede" stroke-width="0.6" />
<line x1="496.22" y1="319.2" x2="496.22" y2="321.2" stroke="#dedede" stroke-width="0.6" />
<line x1="502.48" y1="319.2" x2="502.48" y2="321.2" stroke="#dedede" stroke-width="0.6" />
<line x1="508.74" y1="319.2" x2="508.74" y2="321.2" stroke="#dedede" stroke-width="0.6" />
<line x1="515.0" y1="319.2" x2="515.0" y2="321.2" stroke="#dedede" stroke-width="0.6" />
<text x="394.5" y="246" font-size="9.55" font-weight="bold" font-style="normal" text-anchor="start" fill="#000" stroke="#000" stroke-width="0.18" >DBA#03</text>
<line x1="232.2" y1="331.5" x2="232.2" y2="419.2" stroke="#c8c8c8" stroke-width="1.0" />
<line x1="232.2" y1="419.2" x2="366" y2="419.2" stroke="#c8c8c8" stroke-width="1.0" />
<line x1="232.2" y1="380.5" x2="366" y2="380.5" stroke="#ababab" stroke-width="0.9" />
<line x1="366" y1="334.5" x2="366" y2="419.2" stroke="#e6e6e6" stroke-width="0.6" />
<line x1="230.2" y1="331.4" x2="232.2" y2="331.4" stroke="#c8c8c8" stroke-width="0.7" />
<rect x="227.2" y="330.79999999999995" width="2.2" height="1.2" fill="#d8d8d8" />
<line x1="230.2" y1="419.6" x2="232.2" y2="419.6" stroke="#c8c8c8" stroke-width="0.7" />
<rect x="227.2" y="419.0" width="2.2" height="1.2" fill="#d8d8d8" />
<line x1="236.2" y1="419.2" x2="236.2" y2="421.2" stroke="#dedede" stroke-width="0.6" />
<line x1="242.48999999999998" y1="419.2" x2="242.48999999999998" y2="421.2" stroke="#dedede" stroke-width="0.6" />
<line x1="248.78" y1="419.2" x2="248.78" y2="421.2" stroke="#dedede" stroke-width="0.6" />
<line x1="255.07" y1="419.2" x2="255.07" y2="421.2" stroke="#dedede" stroke-width="0.6" />
<line x1="261.36" y1="419.2" x2="261.36" y2="421.2" stroke="#dedede" stroke-width="0.6" />
<line x1="267.65" y1="419.2" x2="267.65" y2="421.2" stroke="#dedede" stroke-width="0.6" />
<line x1="273.94" y1="419.2" x2="273.94" y2="421.2" stroke="#dedede" stroke-width="0.6" />
<line x1="280.23" y1="419.2" x2="280.23" y2="421.2" stroke="#dedede" stroke-width="0.6" />
<line x1="286.52" y1="419.2" x2="286.52" y2="421.2" stroke="#dedede" stroke-width="0.6" />
<line x1="292.81" y1="419.2" x2="292.81" y2="421.2" stroke="#dedede" stroke-width="0.6" />
<line x1="299.09999999999997" y1="419.2" x2="299.09999999999997" y2="421.2" stroke="#dedede" stroke-width="0.6" />
<line x1="305.39" y1="419.2" x2="305.39" y2="421.2" stroke="#dedede" stroke-width="0.6" />
<line x1="311.68" y1="419.2" x2="311.68" y2="421.2" stroke="#dedede" stroke-width="0.6" />
<line x1="317.97" y1="419.2" x2="317.97" y2="421.2" stroke="#dedede" stroke-width="0.6" />
<line x1="324.26" y1="419.2" x2="324.26" y2="421.2" stroke="#dedede" stroke-width="0.6" />
<line x1="330.55" y1="419.2" x2="330.55" y2="421.2" stroke="#dedede" stroke-width="0.6" />
<line x1="336.84000000000003" y1="419.2" x2="336.84000000000003" y2="421.2" stroke="#dedede" stroke-width="0.6" />
<line x1="343.13" y1="419.2" x2="343.13" y2="421.2" stroke="#dedede" stroke-width="0.6" />
<line x1="349.41999999999996" y1="419.2" x2="349.41999999999996" y2="421.2" stroke="#dedede" stroke-width="0.6" />
<line x1="355.71000000000004" y1="419.2" x2="355.71000000000004" y2="421.2" stroke="#dedede" stroke-width="0.6" />
<line x1="362.0" y1="419.2" x2="362.0" y2="421.2" stroke="#dedede" stroke-width="0.6" />
<text x="289.2" y="326.6" font-size="2.6" font-weight="normal" font-style="normal" text-anchor="start" fill="#777" >Cycle Number</text>
<text x="281.5" y="329.8" font-size="2.6" font-weight="normal" font-style="normal" text-anchor="start" fill="#777" >Amplification plot (log scale)</text>
<text x="239.8" y="343.9" font-size="9.55" font-weight="bold" font-style="normal" text-anchor="start" fill="#000" stroke="#000" stroke-width="0.18" >Healthy</text>
<line x1="385.4" y1="332" x2="385.4" y2="419.2" stroke="#c8c8c8" stroke-width="1.0" />
<line x1="385.4" y1="419.2" x2="519" y2="419.2" stroke="#c8c8c8" stroke-width="1.0" />
<line x1="385.4" y1="375.4" x2="519" y2="375.4" stroke="#ababab" stroke-width="0.9" />
<line x1="519" y1="335" x2="519" y2="419.2" stroke="#e6e6e6" stroke-width="0.6" />
<line x1="383.4" y1="333" x2="385.4" y2="333" stroke="#c8c8c8" stroke-width="0.7" />
<rect x="380.4" y="332.4" width="2.2" height="1.2" fill="#d8d8d8" />
<line x1="383.4" y1="419.6" x2="385.4" y2="419.6" stroke="#c8c8c8" stroke-width="0.7" />
<rect x="380.4" y="419.0" width="2.2" height="1.2" fill="#d8d8d8" />
<line x1="389.4" y1="419.2" x2="389.4" y2="421.2" stroke="#dedede" stroke-width="0.6" />
<line x1="395.67999999999995" y1="419.2" x2="395.67999999999995" y2="421.2" stroke="#dedede" stroke-width="0.6" />
<line x1="401.96" y1="419.2" x2="401.96" y2="421.2" stroke="#dedede" stroke-width="0.6" />
<line x1="408.24" y1="419.2" x2="408.24" y2="421.2" stroke="#dedede" stroke-width="0.6" />
<line x1="414.52" y1="419.2" x2="414.52" y2="421.2" stroke="#dedede" stroke-width="0.6" />
<line x1="420.79999999999995" y1="419.2" x2="420.79999999999995" y2="421.2" stroke="#dedede" stroke-width="0.6" />
<line x1="427.08" y1="419.2" x2="427.08" y2="421.2" stroke="#dedede" stroke-width="0.6" />
<line x1="433.36" y1="419.2" x2="433.36" y2="421.2" stroke="#dedede" stroke-width="0.6" />
<line x1="439.64" y1="419.2" x2="439.64" y2="421.2" stroke="#dedede" stroke-width="0.6" />
<line x1="445.91999999999996" y1="419.2" x2="445.91999999999996" y2="421.2" stroke="#dedede" stroke-width="0.6" />
<line x1="452.2" y1="419.2" x2="452.2" y2="421.2" stroke="#dedede" stroke-width="0.6" />
<line x1="458.48" y1="419.2" x2="458.48" y2="421.2" stroke="#dedede" stroke-width="0.6" />
<line x1="464.76" y1="419.2" x2="464.76" y2="421.2" stroke="#dedede" stroke-width="0.6" />
<line x1="471.03999999999996" y1="419.2" x2="471.03999999999996" y2="421.2" stroke="#dedede" stroke-width="0.6" />
<line x1="477.32" y1="419.2" x2="477.32" y2="421.2" stroke="#dedede" stroke-width="0.6" />
<line x1="483.6" y1="419.2" x2="483.6" y2="421.2" stroke="#dedede" stroke-width="0.6" />
<line x1="489.88" y1="419.2" x2="489.88" y2="421.2" stroke="#dedede" stroke-width="0.6" />
<line x1="496.15999999999997" y1="419.2" x2="496.15999999999997" y2="421.2" stroke="#dedede" stroke-width="0.6" />
<line x1="502.44" y1="419.2" x2="502.44" y2="421.2" stroke="#dedede" stroke-width="0.6" />
<line x1="508.72" y1="419.2" x2="508.72" y2="421.2" stroke="#dedede" stroke-width="0.6" />
<line x1="515.0" y1="419.2" x2="515.0" y2="421.2" stroke="#dedede" stroke-width="0.6" />
<text x="441.5" y="328.3" font-size="2.7" font-weight="normal" font-style="normal" text-anchor="start" fill="#777" >Cycle Number</text>
<text x="393.6" y="343.6" font-size="9.55" font-weight="bold" font-style="normal" text-anchor="start" fill="#000" stroke="#000" stroke-width="0.18" >DBA#03</text>
<text x="243" y="427.4" font-size="7.2" font-weight="bold" font-style="normal" text-anchor="middle" fill="#000" stroke="#000" stroke-width="0.18" >22</text>
<text x="258.9" y="427.4" font-size="7.2" font-weight="bold" font-style="normal" text-anchor="middle" fill="#000" stroke="#000" stroke-width="0.18" >23</text>
<text x="278.2" y="427.4" font-size="7.2" font-weight="bold" font-style="normal" text-anchor="middle" fill="#000" stroke="#000" stroke-width="0.18" >24</text>
<text x="298.4" y="427.4" font-size="7.2" font-weight="bold" font-style="normal" text-anchor="middle" fill="#000" stroke="#000" stroke-width="0.18" >25</text>
<text x="318" y="427.4" font-size="7.2" font-weight="bold" font-style="normal" text-anchor="middle" fill="#000" stroke="#000" stroke-width="0.18" >26</text>
<text x="336.7" y="427.4" font-size="7.2" font-weight="bold" font-style="normal" text-anchor="middle" fill="#000" stroke="#000" stroke-width="0.18" >27</text>
<text x="356.3" y="427.4" font-size="7.2" font-weight="bold" font-style="normal" text-anchor="middle" fill="#000" stroke="#000" stroke-width="0.18" >28</text>
<text x="304.4" y="436" font-size="7.2" font-weight="bold" font-style="normal" text-anchor="middle" fill="#000" stroke="#000" stroke-width="0.18" >Cycle</text>
<text x="305" y="443.8" font-size="7.2" font-weight="bold" font-style="normal" text-anchor="middle" fill="#000" stroke="#000" stroke-width="0.18" >Number</text>
<text x="396.5" y="426.4" font-size="7.2" font-weight="bold" font-style="normal" text-anchor="middle" fill="#000" stroke="#000" stroke-width="0.18" >24</text>
<text x="419.6" y="426.4" font-size="7.2" font-weight="bold" font-style="normal" text-anchor="middle" fill="#000" stroke="#000" stroke-width="0.18" >25</text>
<text x="443.5" y="426.4" font-size="7.2" font-weight="bold" font-style="normal" text-anchor="middle" fill="#000" stroke="#000" stroke-width="0.18" >26</text>
<text x="462.2" y="426.4" font-size="7.2" font-weight="bold" font-style="normal" text-anchor="middle" fill="#000" stroke="#000" stroke-width="0.18" >27</text>
<text x="486.7" y="426.4" font-size="7.2" font-weight="bold" font-style="normal" text-anchor="middle" fill="#000" stroke="#000" stroke-width="0.18" >28</text>
<text x="504.9" y="426.4" font-size="7.2" font-weight="bold" font-style="normal" text-anchor="middle" fill="#000" stroke="#000" stroke-width="0.18" >29</text>
<text x="453.6" y="434.7" font-size="7.2" font-weight="bold" font-style="normal" text-anchor="middle" fill="#000" stroke="#000" stroke-width="0.18" >Cycle</text>
<text x="453.6" y="443.3" font-size="7.2" font-weight="bold" font-style="normal" text-anchor="middle" fill="#000" stroke="#000" stroke-width="0.18" >Number</text>
<rect x="217.2" y="270.6" width="1.2" height="10.4" fill="#b4b4b4" />
<rect x="217.2" y="371.0" width="1.2" height="10.0" fill="#c4c4c4" />
<rect x="376.0" y="272.5" width="1.0" height="6.0" fill="#e0e0e0" />
<rect x="376.0" y="371.5" width="1.0" height="6.0" fill="#e4e4e4" />
<path d="M302.98,318.50 C304.13,315.67 307.83,306.00 309.88,301.50 C311.93,297.00 313.29,295.08 315.28,291.50 C317.26,287.92 319.58,283.83 321.78,280.00 C323.98,276.17 326.28,272.00 328.48,268.50 C330.68,265.00 332.41,261.95 334.98,259.00 C337.54,256.05 341.13,252.83 343.88,250.80 C346.63,248.77 348.29,247.63 351.48,246.80 C354.66,245.97 361.06,245.97 362.98,245.80" fill="none" stroke="#808080" stroke-width="0.8" stroke-opacity="0.65"/>
<path d="M303.59,318.50 C304.74,315.67 308.44,306.00 310.49,301.50 C312.54,297.00 313.91,295.08 315.89,291.50 C317.87,287.92 320.19,283.83 322.39,280.00 C324.59,276.17 326.89,272.00 329.09,268.50 C331.29,265.00 333.02,261.95 335.59,259.00 C338.16,256.05 341.74,252.83 344.49,250.80 C347.24,248.77 348.91,247.63 352.09,246.80 C355.27,245.97 361.67,245.97 363.59,245.80" fill="none" stroke="#808080" stroke-width="0.8" stroke-opacity="0.65"/>
<path d="M303.24,318.50 C304.39,315.67 308.09,306.00 310.14,301.50 C312.19,297.00 313.56,295.08 315.54,291.50 C317.52,287.92 319.84,283.83 322.04,280.00 C324.24,276.17 326.54,272.00 328.74,268.50 C330.94,265.00 332.67,261.95 335.24,259.00 C337.81,256.05 341.39,252.83 344.14,250.80 C346.89,248.77 348.56,247.63 351.74,246.80 C354.92,245.97 361.32,245.97 363.24,245.80" fill="none" stroke="#808080" stroke-width="0.8" stroke-opacity="0.65"/>
<path d="M303.71,318.50 C304.86,315.67 308.56,306.00 310.61,301.50 C312.66,297.00 314.02,295.08 316.01,291.50 C317.99,287.92 320.31,283.83 322.51,280.00 C324.71,276.17 327.01,272.00 329.21,268.50 C331.41,265.00 333.14,261.95 335.71,259.00 C338.27,256.05 341.86,252.83 344.61,250.80 C347.36,248.77 349.02,247.63 352.21,246.80 C355.39,245.97 361.79,245.97 363.71,245.80" fill="none" stroke="#808080" stroke-width="0.8" stroke-opacity="0.65"/>
<path d="M303.75,318.50 C304.90,315.67 308.60,306.00 310.65,301.50 C312.70,297.00 314.07,295.08 316.05,291.50 C318.03,287.92 320.35,283.83 322.55,280.00 C324.75,276.17 327.05,272.00 329.25,268.50 C331.45,265.00 333.18,261.95 335.75,259.00 C338.32,256.05 341.90,252.83 344.65,250.80 C347.40,248.77 349.07,247.63 352.25,246.80 C355.43,245.97 361.83,245.97 363.75,245.80" fill="none" stroke="#808080" stroke-width="0.8" stroke-opacity="0.65"/>
<path d="M302.63,318.50 C303.78,315.67 307.48,306.00 309.53,301.50 C311.58,297.00 312.95,295.08 314.93,291.50 C316.91,287.92 319.23,283.83 321.43,280.00 C323.63,276.17 325.93,272.00 328.13,268.50 C330.33,265.00 332.06,261.95 334.63,259.00 C337.20,256.05 340.78,252.83 343.53,250.80 C346.28,248.77 347.95,247.63 351.13,246.80 C354.31,245.97 360.71,245.97 362.63,245.80" fill="none" stroke="#808080" stroke-width="0.8" stroke-opacity="0.65"/>
<path d="M307.30,318.00 C308.00,315.42 309.97,306.83 311.50,302.50 C313.03,298.17 314.62,295.67 316.50,292.00 C318.38,288.33 320.72,284.37 322.80,280.50 C324.88,276.63 327.97,270.75 329.00,268.80" fill="none" stroke="#999" stroke-width="0.6" stroke-opacity="0.7"/>
<path d="M306.30,318.00 C307.00,315.42 308.97,306.83 310.50,302.50 C312.03,298.17 313.62,295.67 315.50,292.00 C317.38,288.33 319.72,284.37 321.80,280.50 C323.88,276.63 326.97,270.75 328.00,268.80" fill="none" stroke="#999" stroke-width="0.6" stroke-opacity="0.7"/>
<path d="M463.93,317.00 C464.31,315.25 465.28,309.53 466.23,306.50 C467.18,303.47 468.03,302.17 469.63,298.80 C471.23,295.43 473.73,290.20 475.83,286.30 C477.93,282.40 479.56,279.68 482.23,275.40 C484.89,271.12 489.26,264.13 491.83,260.60 C494.39,257.07 495.38,256.12 497.63,254.20 C499.88,252.28 502.54,250.27 505.33,249.10 C508.11,247.93 512.83,247.52 514.33,247.20" fill="none" stroke="#808080" stroke-width="0.8" stroke-opacity="0.65"/>
<path d="M465.57,317.00 C465.96,315.25 466.92,309.53 467.87,306.50 C468.82,303.47 469.67,302.17 471.27,298.80 C472.87,295.43 475.37,290.20 477.47,286.30 C479.57,282.40 481.21,279.68 483.87,275.40 C486.54,271.12 490.91,264.13 493.47,260.60 C496.04,257.07 497.02,256.12 499.27,254.20 C501.52,252.28 504.19,250.27 506.97,249.10 C509.76,247.93 514.47,247.52 515.97,247.20" fill="none" stroke="#808080" stroke-width="0.8" stroke-opacity="0.65"/>
<path d="M464.42,317.00 C464.80,315.25 465.77,309.53 466.72,306.50 C467.67,303.47 468.52,302.17 470.12,298.80 C471.72,295.43 474.22,290.20 476.32,286.30 C478.42,282.40 480.05,279.68 482.72,275.40 C485.39,271.12 489.75,264.13 492.32,260.60 C494.89,257.07 495.87,256.12 498.12,254.20 C500.37,252.28 503.04,250.27 505.82,249.10 C508.60,247.93 513.32,247.52 514.82,247.20" fill="none" stroke="#808080" stroke-width="0.8" stroke-opacity="0.65"/>
<path d="M464.37,317.00 C464.75,315.25 465.72,309.53 466.67,306.50 C467.62,303.47 468.47,302.17 470.07,298.80 C471.67,295.43 474.17,290.20 476.27,286.30 C478.37,282.40 480.00,279.68 482.67,275.40 C485.34,271.12 489.70,264.13 492.27,260.60 C494.84,257.07 495.82,256.12 498.07,254.20 C500.32,252.28 502.99,250.27 505.77,249.10 C508.55,247.93 513.27,247.52 514.77,247.20" fill="none" stroke="#808080" stroke-width="0.8" stroke-opacity="0.65"/>
<path d="M465.89,317.00 C466.27,315.25 467.24,309.53 468.19,306.50 C469.14,303.47 469.99,302.17 471.59,298.80 C473.19,295.43 475.69,290.20 477.79,286.30 C479.89,282.40 481.52,279.68 484.19,275.40 C486.86,271.12 491.22,264.13 493.79,260.60 C496.36,257.07 497.34,256.12 499.59,254.20 C501.84,252.28 504.51,250.27 507.29,249.10 C510.07,247.93 514.79,247.52 516.29,247.20" fill="none" stroke="#808080" stroke-width="0.8" stroke-opacity="0.65"/>
<path d="M464.84,317.00 C465.22,315.25 466.19,309.53 467.14,306.50 C468.09,303.47 468.94,302.17 470.54,298.80 C472.14,295.43 474.64,290.20 476.74,286.30 C478.84,282.40 480.47,279.68 483.14,275.40 C485.81,271.12 490.17,264.13 492.74,260.60 C495.31,257.07 496.29,256.12 498.54,254.20 C500.79,252.28 503.46,250.27 506.24,249.10 C509.02,247.93 513.74,247.52 515.24,247.20" fill="none" stroke="#808080" stroke-width="0.8" stroke-opacity="0.65"/>
<path d="M468.80,317.00 C469.20,315.25 470.23,309.53 471.20,306.50 C472.17,303.47 473.00,302.17 474.60,298.80 C476.20,295.43 478.70,290.20 480.80,286.30 C482.90,282.40 484.58,279.62 487.20,275.40 C489.82,271.18 494.03,264.37 496.50,261.00 C498.97,257.63 499.92,256.90 502.00,255.20 C504.08,253.50 506.75,251.83 509.00,250.80 C511.25,249.77 514.42,249.30 515.50,249.00" fill="none" stroke="#b8b8b8" stroke-width="0.6" stroke-opacity="0.7"/>
<path d="M469.60,317.30 C470.00,315.55 471.03,309.83 472.00,306.80 C472.97,303.77 473.80,302.47 475.40,299.10 C477.00,295.73 479.50,290.50 481.60,286.60 C483.70,282.70 485.38,279.92 488.00,275.70 C490.62,271.48 494.83,264.67 497.30,261.30 C499.77,257.93 500.72,257.20 502.80,255.50 C504.88,253.80 507.55,252.13 509.80,251.10 C512.05,250.07 515.22,249.60 516.30,249.30" fill="none" stroke="#b8b8b8" stroke-width="0.6" stroke-opacity="0.7"/>
<path d="M242.50,410.40 C245.42,408.50 252.92,403.90 260.00,399.00 C267.08,394.10 276.67,386.69 285.00,381.00 C293.33,375.32 301.67,370.00 310.00,364.90 C318.33,359.80 327.40,354.74 335.00,350.40 C342.60,346.07 352.17,340.82 355.60,338.90" fill="none" stroke="#5e5e5e" stroke-width="0.6" stroke-opacity="0.8"/>
<path d="M242.50,410.96 C245.42,409.06 252.92,404.46 260.00,399.56 C267.08,394.66 276.67,387.24 285.00,381.56 C293.33,375.87 301.67,370.56 310.00,365.46 C318.33,360.36 327.40,355.29 335.00,350.96 C342.60,346.62 352.17,341.37 355.60,339.46" fill="none" stroke="#5e5e5e" stroke-width="0.6" stroke-opacity="0.8"/>
<path d="M242.50,411.83 C245.42,409.93 252.92,405.33 260.00,400.43 C267.08,395.53 276.67,388.11 285.00,382.43 C293.33,376.74 301.67,371.43 310.00,366.33 C318.33,361.23 327.40,356.16 335.00,351.83 C342.60,347.49 352.17,342.24 355.60,340.33" fill="none" stroke="#5e5e5e" stroke-width="0.6" stroke-opacity="0.8"/>
<path d="M242.50,412.30 C245.42,410.40 252.92,405.80 260.00,400.90 C267.08,396.00 276.67,388.59 285.00,382.90 C293.33,377.22 301.67,371.90 310.00,366.80 C318.33,361.70 327.40,356.64 335.00,352.30 C342.60,347.97 352.17,342.72 355.60,340.80" fill="none" stroke="#5e5e5e" stroke-width="0.6" stroke-opacity="0.8"/>
<path d="M242.50,413.37 C245.42,411.47 252.92,406.87 260.00,401.97 C267.08,397.07 276.67,389.65 285.00,383.97 C293.33,378.28 301.67,372.97 310.00,367.87 C318.33,362.77 327.40,357.70 335.00,353.37 C342.60,349.03 352.17,343.78 355.60,341.87" fill="none" stroke="#5e5e5e" stroke-width="0.6" stroke-opacity="0.8"/>
<path d="M242.50,414.28 C245.42,412.38 252.92,407.78 260.00,402.88 C267.08,397.98 276.67,390.56 285.00,384.88 C293.33,379.19 301.67,373.88 310.00,368.78 C318.33,363.68 327.40,358.61 335.00,354.28 C342.60,349.94 352.17,344.69 355.60,342.78" fill="none" stroke="#5e5e5e" stroke-width="0.6" stroke-opacity="0.8"/>
<path d="M242.50,414.84 C245.42,412.94 252.92,408.34 260.00,403.44 C267.08,398.54 276.67,391.13 285.00,385.44 C293.33,379.76 301.67,374.44 310.00,369.34 C318.33,364.24 327.40,359.18 335.00,354.84 C342.60,350.51 352.17,345.26 355.60,343.34" fill="none" stroke="#5e5e5e" stroke-width="0.6" stroke-opacity="0.8"/>
<path d="M242.50,415.74 C245.42,413.84 252.92,409.24 260.00,404.34 C267.08,399.44 276.67,392.03 285.00,386.34 C293.33,380.66 301.67,375.34 310.00,370.24 C318.33,365.14 327.40,360.08 335.00,355.74 C342.60,351.41 352.17,346.16 355.60,344.24" fill="none" stroke="#5e5e5e" stroke-width="0.6" stroke-opacity="0.8"/>
<path d="M397.50,402.20 C400.42,400.45 407.92,395.85 415.00,391.70 C422.08,387.55 431.67,381.97 440.00,377.30 C448.33,372.64 456.67,367.87 465.00,363.70 C473.33,359.54 483.08,355.47 490.00,352.30 C496.92,349.14 503.75,345.97 506.50,344.70" fill="none" stroke="#666" stroke-width="0.6" stroke-opacity="0.75"/>
<path d="M397.50,402.57 C400.42,400.82 407.92,396.22 415.00,392.07 C422.08,387.92 431.67,382.34 440.00,377.67 C448.33,373.01 456.67,368.24 465.00,364.07 C473.33,359.91 483.08,355.84 490.00,352.67 C496.92,349.51 503.75,346.34 506.50,345.07" fill="none" stroke="#666" stroke-width="0.6" stroke-opacity="0.75"/>
<path d="M397.50,403.72 C400.42,401.97 407.92,397.37 415.00,393.22 C422.08,389.07 431.67,383.49 440.00,378.82 C448.33,374.15 456.67,369.39 465.00,365.22 C473.33,361.05 483.08,356.99 490.00,353.82 C496.92,350.65 503.75,347.49 506.50,346.22" fill="none" stroke="#666" stroke-width="0.6" stroke-opacity="0.75"/>
<path d="M397.50,404.35 C400.42,402.60 407.92,398.00 415.00,393.85 C422.08,389.70 431.67,384.12 440.00,379.45 C448.33,374.79 456.67,370.02 465.00,365.85 C473.33,361.69 483.08,357.62 490.00,354.45 C496.92,351.29 503.75,348.12 506.50,346.85" fill="none" stroke="#666" stroke-width="0.6" stroke-opacity="0.75"/>
<path d="M397.50,404.91 C400.42,403.16 407.92,398.56 415.00,394.41 C422.08,390.26 431.67,384.68 440.00,380.01 C448.33,375.35 456.67,370.58 465.00,366.41 C473.33,362.25 483.08,358.18 490.00,355.01 C496.92,351.85 503.75,348.68 506.50,347.41" fill="none" stroke="#666" stroke-width="0.6" stroke-opacity="0.75"/>
<path d="M397.50,405.49 C400.42,403.74 407.92,399.14 415.00,394.99 C422.08,390.84 431.67,385.25 440.00,380.59 C448.33,375.92 456.67,371.15 465.00,366.99 C473.33,362.82 483.08,358.75 490.00,355.59 C496.92,352.42 503.75,349.25 506.50,347.99" fill="none" stroke="#666" stroke-width="0.6" stroke-opacity="0.75"/>
<path d="M397.50,406.72 C400.42,404.97 407.92,400.37 415.00,396.22 C422.08,392.07 431.67,386.49 440.00,381.82 C448.33,377.15 456.67,372.39 465.00,368.22 C473.33,364.05 483.08,359.99 490.00,356.82 C496.92,353.65 503.75,350.49 506.50,349.22" fill="none" stroke="#666" stroke-width="0.6" stroke-opacity="0.75"/>
<path d="M397.50,407.22 C400.42,405.47 407.92,400.87 415.00,396.72 C422.08,392.57 431.67,386.98 440.00,382.32 C448.33,377.65 456.67,372.88 465.00,368.72 C473.33,364.55 483.08,360.48 490.00,357.32 C496.92,354.15 503.75,350.98 506.50,349.72" fill="none" stroke="#666" stroke-width="0.6" stroke-opacity="0.75"/>
<path d="M397.50,408.10 C400.42,406.35 407.92,401.75 415.00,397.60 C422.08,393.45 431.67,387.86 440.00,383.20 C448.33,378.53 456.67,373.76 465.00,369.60 C473.33,365.43 483.08,361.36 490.00,358.20 C496.92,355.03 503.75,351.86 506.50,350.60" fill="none" stroke="#666" stroke-width="0.6" stroke-opacity="0.75"/>
<path d="M397.50,408.93 C400.42,407.18 407.92,402.58 415.00,398.43 C422.08,394.28 431.67,388.69 440.00,384.03 C448.33,379.36 456.67,374.59 465.00,370.43 C473.33,366.26 483.08,362.19 490.00,359.03 C496.92,355.86 503.75,352.69 506.50,351.43" fill="none" stroke="#666" stroke-width="0.6" stroke-opacity="0.75"/>
<path d="M412.00,413.71 C416.67,410.76 431.17,401.63 440.00,396.01 C448.83,390.40 457.33,384.68 465.00,380.01 C472.67,375.35 479.17,371.68 486.00,368.01 C492.83,364.35 502.67,359.68 506.00,358.01" fill="none" stroke="#dcdcdc" stroke-width="0.6" stroke-opacity="0.9"/>
<path d="M412.00,414.21 C416.67,411.26 431.17,402.13 440.00,396.51 C448.83,390.89 457.33,385.18 465.00,380.51 C472.67,375.84 479.17,372.18 486.00,368.51 C492.83,364.84 502.67,360.18 506.00,358.51" fill="none" stroke="#dcdcdc" stroke-width="0.6" stroke-opacity="0.9"/>
<path d="M412.00,412.95 C416.67,410.00 431.17,400.86 440.00,395.25 C448.83,389.63 457.33,383.91 465.00,379.25 C472.67,374.58 479.17,370.91 486.00,367.25 C492.83,363.58 502.67,358.91 506.00,357.25" fill="none" stroke="#dcdcdc" stroke-width="0.6" stroke-opacity="0.9"/>
<path d="M412.00,413.92 C416.67,410.97 431.17,401.84 440.00,396.22 C448.83,390.61 457.33,384.89 465.00,380.22 C472.67,375.56 479.17,371.89 486.00,368.22 C492.83,364.56 502.67,359.89 506.00,358.22" fill="none" stroke="#dcdcdc" stroke-width="0.6" stroke-opacity="0.9"/>
<text x="0.3" y="458.3" font-size="14.5" font-weight="bold" font-style="normal" text-anchor="start" fill="#000" stroke="#000" stroke-width="0.18" >C</text>
<text x="27.5" y="459.2" font-size="11" font-weight="normal" font-style="normal" text-anchor="start" fill="#000" stroke="#000" stroke-width="0.45">i</text>
<line x1="71.3" y1="470.4" x2="469" y2="470.4" stroke="#a0a0a0" stroke-width="1.1" />
<line x1="71.3" y1="499.9" x2="469" y2="499.9" stroke="#a0a0a0" stroke-width="1.1" />
<line x1="71.3" y1="529.2" x2="469" y2="529.2" stroke="#a0a0a0" stroke-width="1.1" />
<line x1="71.3" y1="470.4" x2="71.3" y2="529.2" stroke="#a0a0a0" stroke-width="1.1" />
<line x1="71.3" y1="529.2" x2="71.3" y2="531.7" stroke="#a0a0a0" stroke-width="0.8" />
<line x1="81.47" y1="529.2" x2="81.47" y2="531.7" stroke="#a0a0a0" stroke-width="0.8" />
<line x1="91.64" y1="529.2" x2="91.64" y2="531.7" stroke="#a0a0a0" stroke-width="0.8" />
<line x1="101.81" y1="529.2" x2="101.81" y2="531.7" stroke="#a0a0a0" stroke-width="0.8" />
<line x1="111.97999999999999" y1="529.2" x2="111.97999999999999" y2="531.7" stroke="#a0a0a0" stroke-width="0.8" />
<line x1="122.15" y1="529.2" x2="122.15" y2="531.7" stroke="#a0a0a0" stroke-width="0.8" />
<line x1="132.32" y1="529.2" x2="132.32" y2="531.7" stroke="#a0a0a0" stroke-width="0.8" />
<line x1="142.49" y1="529.2" x2="142.49" y2="531.7" stroke="#a0a0a0" stroke-width="0.8" />
<line x1="152.66" y1="529.2" x2="152.66" y2="531.7" stroke="#a0a0a0" stroke-width="0.8" />
<line x1="162.82999999999998" y1="529.2" x2="162.82999999999998" y2="531.7" stroke="#a0a0a0" stroke-width="0.8" />
<line x1="173.0" y1="529.2" x2="173.0" y2="531.7" stroke="#a0a0a0" stroke-width="0.8" />
<line x1="183.17000000000002" y1="529.2" x2="183.17000000000002" y2="531.7" stroke="#a0a0a0" stroke-width="0.8" />
<line x1="193.33999999999997" y1="529.2" x2="193.33999999999997" y2="531.7" stroke="#a0a0a0" stroke-width="0.8" />
<line x1="203.51" y1="529.2" x2="203.51" y2="531.7" stroke="#a0a0a0" stroke-width="0.8" />
<line x1="213.68" y1="529.2" x2="213.68" y2="531.7" stroke="#a0a0a0" stroke-width="0.8" />
<line x1="223.85000000000002" y1="529.2" x2="223.85000000000002" y2="531.7" stroke="#a0a0a0" stroke-width="0.8" />
<line x1="234.01999999999998" y1="529.2" x2="234.01999999999998" y2="531.7" stroke="#a0a0a0" stroke-width="0.8" />
<line x1="244.19" y1="529.2" x2="244.19" y2="531.7" stroke="#a0a0a0" stroke-width="0.8" />
<line x1="254.36" y1="529.2" x2="254.36" y2="531.7" stroke="#a0a0a0" stroke-width="0.8" />
<line x1="264.53" y1="529.2" x2="264.53" y2="531.7" stroke="#a0a0a0" stroke-width="0.8" />
<line x1="274.7" y1="529.2" x2="274.7" y2="531.7" stroke="#a0a0a0" stroke-width="0.8" />
<line x1="284.87" y1="529.2" x2="284.87" y2="531.7" stroke="#a0a0a0" stroke-width="0.8" />
<line x1="295.04" y1="529.2" x2="295.04" y2="531.7" stroke="#a0a0a0" stroke-width="0.8" />
<line x1="305.21" y1="529.2" x2="305.21" y2="531.7" stroke="#a0a0a0" stroke-width="0.8" />
<line x1="315.38" y1="529.2" x2="315.38" y2="531.7" stroke="#a0a0a0" stroke-width="0.8" />
<line x1="325.55" y1="529.2" x2="325.55" y2="531.7" stroke="#a0a0a0" stroke-width="0.8" />
<line x1="335.72" y1="529.2" x2="335.72" y2="531.7" stroke="#a0a0a0" stroke-width="0.8" />
<line x1="345.89" y1="529.2" x2="345.89" y2="531.7" stroke="#a0a0a0" stroke-width="0.8" />
<line x1="356.06" y1="529.2" x2="356.06" y2="531.7" stroke="#a0a0a0" stroke-width="0.8" />
<line x1="366.23" y1="529.2" x2="366.23" y2="531.7" stroke="#a0a0a0" stroke-width="0.8" />
<line x1="376.40000000000003" y1="529.2" x2="376.40000000000003" y2="531.7" stroke="#a0a0a0" stroke-width="0.8" />
<line x1="386.57" y1="529.2" x2="386.57" y2="531.7" stroke="#a0a0a0" stroke-width="0.8" />
<line x1="396.74" y1="529.2" x2="396.74" y2="531.7" stroke="#a0a0a0" stroke-width="0.8" />
<line x1="406.91" y1="529.2" x2="406.91" y2="531.7" stroke="#a0a0a0" stroke-width="0.8" />
<line x1="417.08" y1="529.2" x2="417.08" y2="531.7" stroke="#a0a0a0" stroke-width="0.8" />
<line x1="427.25" y1="529.2" x2="427.25" y2="531.7" stroke="#a0a0a0" stroke-width="0.8" />
<line x1="437.42" y1="529.2" x2="437.42" y2="531.7" stroke="#a0a0a0" stroke-width="0.8" />
<line x1="447.59000000000003" y1="529.2" x2="447.59000000000003" y2="531.7" stroke="#a0a0a0" stroke-width="0.8" />
<line x1="457.76" y1="529.2" x2="457.76" y2="531.7" stroke="#a0a0a0" stroke-width="0.8" />
<line x1="467.93" y1="529.2" x2="467.93" y2="531.7" stroke="#a0a0a0" stroke-width="0.8" />
<text transform="translate(78.80,533.2) rotate(-90)" font-size="6.95" text-anchor="end" fill="#111">L5-2</text>
<text transform="translate(88.97,533.2) rotate(-90)" font-size="6.95" text-anchor="end" fill="#111">L5-5</text>
<text transform="translate(99.14,533.2) rotate(-90)" font-size="6.95" text-anchor="end" fill="#111">L5-17</text>
<text transform="translate(109.31,533.2) rotate(-90)" font-size="6.95" text-anchor="end" fill="#111">L5-19</text>
<text transform="translate(119.48,533.2) rotate(-90)" font-size="6.95" text-anchor="end" fill="#111">L5-28</text>
<text transform="translate(129.65,533.2) rotate(-90)" font-size="6.95" text-anchor="end" fill="#111">L11-6</text>
<text transform="translate(139.82,533.2) rotate(-90)" font-size="6.95" text-anchor="end" fill="#111">L11-20</text>
<text transform="translate(149.99,533.2) rotate(-90)" font-size="6.95" text-anchor="end" fill="#111">L11-22</text>
<text transform="translate(160.16,533.2) rotate(-90)" font-size="6.95" text-anchor="end" fill="#111">L35A-1</text>
<text transform="translate(170.33,533.2) rotate(-90)" font-size="6.95" text-anchor="end" fill="#111">L35A-7</text>
<text transform="translate(180.50,533.2) rotate(-90)" font-size="6.95" text-anchor="end" fill="#111">L35A-17</text>
<text transform="translate(190.67,533.2) rotate(-90)" font-size="6.95" text-anchor="end" fill="#111">L35A-18</text>
<text transform="translate(200.84,533.2) rotate(-90)" font-size="6.95" text-anchor="end" fill="#111">S10-3</text>
<text transform="translate(211.01,533.2) rotate(-90)" font-size="6.95" text-anchor="end" fill="#111">S10-15</text>
<text transform="translate(221.18,533.2) rotate(-90)" font-size="6.95" text-anchor="end" fill="#111">S10-17</text>
<text transform="translate(231.35,533.2) rotate(-90)" font-size="6.95" text-anchor="end" fill="#111">S14-3</text>
<text transform="translate(241.52,533.2) rotate(-90)" font-size="6.95" text-anchor="end" fill="#111">S14-5</text>
<text transform="translate(251.69,533.2) rotate(-90)" font-size="6.95" text-anchor="end" fill="#111">S14-6</text>
<text transform="translate(261.86,533.2) rotate(-90)" font-size="6.95" text-anchor="end" fill="#111">S14-9</text>
<text transform="translate(272.03,533.2) rotate(-90)" font-size="6.95" text-anchor="end" fill="#111">S14-13</text>
<text transform="translate(282.20,533.2) rotate(-90)" font-size="6.95" text-anchor="end" fill="#111">S14-15</text>
<text transform="translate(292.37,533.2) rotate(-90)" font-size="6.95" text-anchor="end" fill="#111">S14-19</text>
<text transform="translate(302.54,533.2) rotate(-90)" font-size="6.95" text-anchor="end" fill="#111">S17-3</text>
<text transform="translate(312.71,533.2) rotate(-90)" font-size="6.95" text-anchor="end" fill="#111">S17-12</text>
<text transform="translate(322.88,533.2) rotate(-90)" font-size="6.95" text-anchor="end" fill="#111">S17-16</text>
<text transform="translate(333.05,533.2) rotate(-90)" font-size="6.95" text-anchor="end" fill="#111">S17-20</text>
<text transform="translate(343.22,533.2) rotate(-90)" font-size="6.95" text-anchor="end" fill="#111">S19-36</text>
<text transform="translate(353.39,533.2) rotate(-90)" font-size="6.95" text-anchor="end" fill="#111">S19-40</text>
<text transform="translate(363.56,533.2) rotate(-90)" font-size="6.95" text-anchor="end" fill="#111">S19-58</text>
<text transform="translate(373.73,533.2) rotate(-90)" font-size="6.95" text-anchor="end" fill="#111">S19-62</text>
<text transform="translate(383.90,533.2) rotate(-90)" font-size="6.95" text-anchor="end" fill="#111">S24-17</text>
<text transform="translate(394.07,533.2) rotate(-90)" font-size="6.95" text-anchor="end" fill="#111">S24-20</text>
<text transform="translate(404.24,533.2) rotate(-90)" font-size="6.95" text-anchor="end" fill="#111">S24-32</text>
<text transform="translate(414.41,533.2) rotate(-90)" font-size="6.95" text-anchor="end" fill="#111">S26-3</text>
<text transform="translate(424.58,533.2) rotate(-90)" font-size="6.95" text-anchor="end" fill="#111">S26-5</text>
<text transform="translate(434.75,533.2) rotate(-90)" font-size="6.95" text-anchor="end" fill="#111">S7-11</text>
<text transform="translate(444.92,533.2) rotate(-90)" font-size="6.95" text-anchor="end" fill="#111">S7-12</text>
<text transform="translate(455.09,533.2) rotate(-90)" font-size="6.95" text-anchor="end" fill="#111">S7-16</text>
<text transform="translate(465.26,533.2) rotate(-90)" font-size="6.95" text-anchor="end" fill="#111">DW</text>
<polygon points="76.50,506.90 80.40,510.80 76.50,514.70 72.60,510.80" fill="#000" />
<polygon points="86.67,512.70 90.57,516.60 86.67,520.50 82.77,516.60" fill="#000" />
<polygon points="96.84,500.60 100.74,504.50 96.84,508.40 92.94,504.50" fill="#000" />
<polygon points="107.01,509.90 110.91,513.80 107.01,517.70 103.11,513.80" fill="#000" />
<polygon points="117.18,502.70 121.08,506.60 117.18,510.50 113.28,506.60" fill="#000" />
<polygon points="127.35,515.70 131.25,519.60 127.35,523.50 123.45,519.60" fill="#000" />
<polygon points="137.52,509.90 141.42,513.80 137.52,517.70 133.62,513.80" fill="#000" />
<polygon points="147.69,505.70 151.59,509.60 147.69,513.50 143.79,509.60" fill="#000" />
<polygon points="157.86,508.50 161.76,512.40 157.86,516.30 153.96,512.40" fill="#000" />
<polygon points="168.03,515.00 171.93,518.90 168.03,522.80 164.13,518.90" fill="#000" />
<polygon points="178.20,508.00 182.10,511.90 178.20,515.80 174.30,511.90" fill="#000" />
<polygon points="188.37,509.20 192.27,513.10 188.37,517.00 184.47,513.10" fill="#000" />
<polygon points="198.54,510.80 202.44,514.70 198.54,518.60 194.64,514.70" fill="#000" />
<polygon points="208.71,518.40 212.61,522.30 208.71,526.20 204.81,522.30" fill="#000" />
<polygon points="218.88,508.00 222.78,511.90 218.88,515.80 214.98,511.90" fill="#000" />
<polygon points="229.05,509.20 232.95,513.10 229.05,517.00 225.15,513.10" fill="#000" />
<polygon points="239.22,515.40 243.12,519.30 239.22,523.20 235.32,519.30" fill="#000" />
<polygon points="249.39,508.50 253.29,512.40 249.39,516.30 245.49,512.40" fill="#000" />
<polygon points="259.56,509.20 263.46,513.10 259.56,517.00 255.66,513.10" fill="#000" />
<polygon points="269.73,512.20 273.63,516.10 269.73,520.00 265.83,516.10" fill="#000" />
<polygon points="279.90,499.30 283.80,503.20 279.90,507.10 276.00,503.20" fill="#000" />
<polygon points="290.07,508.30 293.97,512.20 290.07,516.10 286.17,512.20" fill="#000" />
<polygon points="300.24,504.70 304.14,508.60 300.24,512.50 296.34,508.60" fill="#000" />
<polygon points="310.41,516.40 314.31,520.30 310.41,524.20 306.51,520.30" fill="#000" />
<polygon points="320.58,516.90 324.48,520.80 320.58,524.70 316.68,520.80" fill="#000" />
<polygon points="330.75,514.60 334.65,518.50 330.75,522.40 326.85,518.50" fill="#000" />
<polygon points="340.92,512.80 344.82,516.70 340.92,520.60 337.02,516.70" fill="#000" />
<polygon points="351.09,511.80 354.99,515.70 351.09,519.60 347.19,515.70" fill="#000" />
<polygon points="361.26,504.70 365.16,508.60 361.26,512.50 357.36,508.60" fill="#000" />
<polygon points="371.43,503.10 375.33,507.00 371.43,510.90 367.53,507.00" fill="#000" />
<polygon points="381.60,515.10 385.50,519.00 381.60,522.90 377.70,519.00" fill="#000" />
<polygon points="391.77,508.10 395.67,512.00 391.77,515.90 387.87,512.00" fill="#000" />
<polygon points="401.94,507.60 405.84,511.50 401.94,515.40 398.04,511.50" fill="#000" />
<polygon points="412.11,510.40 416.01,514.30 412.11,518.20 408.21,514.30" fill="#000" />
<polygon points="422.28,518.90 426.18,522.80 422.28,526.70 418.38,522.80" fill="#000" />
<polygon points="432.45,516.80 436.35,520.70 432.45,524.60 428.55,520.70" fill="#000" />
<polygon points="442.62,511.50 446.52,515.40 442.62,519.30 438.72,515.40" fill="#000" />
<polygon points="452.79,511.50 456.69,515.40 452.79,519.30 448.89,515.40" fill="#000" />
<text x="63.8" y="473.70000000000005" font-size="8.9" font-weight="normal" font-style="normal" text-anchor="end" fill="#333" >26</text>
<text x="63.8" y="503.5" font-size="8.9" font-weight="normal" font-style="normal" text-anchor="end" fill="#333" >25</text>
<text x="63.8" y="532.5" font-size="8.9" font-weight="normal" font-style="normal" text-anchor="end" fill="#333" >24</text>
<text transform="translate(47.6,519) rotate(-90)" font-size="8.5" font-weight="bold" stroke="#000" stroke-width="0.18">Ct (cycles)</text>
<text x="257" y="460.8" font-size="9.6" font-weight="bold" font-style="normal" text-anchor="start" fill="#000" stroke="#000" stroke-width="0.18" >Healthy</text>
<line x1="475.5" y1="476.2" x2="484.7" y2="476.2" stroke="#000" stroke-width="1.4" />
<line x1="475.5" y1="501.6" x2="484.7" y2="501.6" stroke="#000" stroke-width="1.4" />
<line x1="475.5" y1="527.7" x2="484.7" y2="527.7" stroke="#000" stroke-width="1.4" />
<line x1="480" y1="480.86" x2="480" y2="497.03999999999996" stroke="#000" stroke-width="1.5" />
<polygon points="480.00,476.70 477.20,481.90 482.80,481.90" fill="#000" />
<polygon points="480.00,501.20 477.20,496.00 482.80,496.00" fill="#000" />
<line x1="480" y1="506.16" x2="480" y2="523.0400000000001" stroke="#000" stroke-width="1.5" />
<polygon points="480.00,502.00 477.20,507.20 482.80,507.20" fill="#000" />
<polygon points="480.00,527.20 477.20,522.00 482.80,522.00" fill="#000" />
<text x="492.6" y="493.2" font-size="8.8" font-weight="bold" font-style="normal" text-anchor="start" fill="#000" stroke="#000" stroke-width="0.18" >N</text>
<text x="492.0" y="519.8" font-size="8.8" font-weight="bold" font-style="normal" text-anchor="start" fill="#000" stroke="#000" stroke-width="0.18" >2N</text>
<text x="27.5" y="578.7" font-size="11" font-weight="normal" font-style="normal" text-anchor="start" fill="#000" stroke="#000" stroke-width="0.45">ii</text>
<line x1="75.6" y1="591.0" x2="469.3" y2="591.0" stroke="#a0a0a0" stroke-width="1.1" />
<line x1="75.6" y1="619.2" x2="469.3" y2="619.2" stroke="#a0a0a0" stroke-width="1.1" />
<line x1="75.6" y1="647.0" x2="469.3" y2="647.0" stroke="#a0a0a0" stroke-width="1.1" />
<line x1="75.6" y1="591.0" x2="75.6" y2="647.0" stroke="#a0a0a0" stroke-width="1.1" />
<line x1="75.6" y1="647.0" x2="75.6" y2="649.5" stroke="#a0a0a0" stroke-width="0.8" />
<line x1="85.69" y1="647.0" x2="85.69" y2="649.5" stroke="#a0a0a0" stroke-width="0.8" />
<line x1="95.78" y1="647.0" x2="95.78" y2="649.5" stroke="#a0a0a0" stroke-width="0.8" />
<line x1="105.86999999999999" y1="647.0" x2="105.86999999999999" y2="649.5" stroke="#a0a0a0" stroke-width="0.8" />
<line x1="115.96" y1="647.0" x2="115.96" y2="649.5" stroke="#a0a0a0" stroke-width="0.8" />
<line x1="126.05" y1="647.0" x2="126.05" y2="649.5" stroke="#a0a0a0" stroke-width="0.8" />
<line x1="136.14" y1="647.0" x2="136.14" y2="649.5" stroke="#a0a0a0" stroke-width="0.8" />
<line x1="146.23" y1="647.0" x2="146.23" y2="649.5" stroke="#a0a0a0" stroke-width="0.8" />
<line x1="156.32" y1="647.0" x2="156.32" y2="649.5" stroke="#a0a0a0" stroke-width="0.8" />
<line x1="166.41" y1="647.0" x2="166.41" y2="649.5" stroke="#a0a0a0" stroke-width="0.8" />
<line x1="176.5" y1="647.0" x2="176.5" y2="649.5" stroke="#a0a0a0" stroke-width="0.8" />
<line x1="186.58999999999997" y1="647.0" x2="186.58999999999997" y2="649.5" stroke="#a0a0a0" stroke-width="0.8" />
<line x1="196.68" y1="647.0" x2="196.68" y2="649.5" stroke="#a0a0a0" stroke-width="0.8" />
<line x1="206.76999999999998" y1="647.0" x2="206.76999999999998" y2="649.5" stroke="#a0a0a0" stroke-width="0.8" />
<line x1="216.85999999999999" y1="647.0" x2="216.85999999999999" y2="649.5" stroke="#a0a0a0" stroke-width="0.8" />
<line x1="226.95" y1="647.0" x2="226.95" y2="649.5" stroke="#a0a0a0" stroke-width="0.8" />
<line x1="237.04" y1="647.0" x2="237.04" y2="649.5" stroke="#a0a0a0" stroke-width="0.8" />
<line x1="247.13" y1="647.0" x2="247.13" y2="649.5" stroke="#a0a0a0" stroke-width="0.8" />
<line x1="257.22" y1="647.0" x2="257.22" y2="649.5" stroke="#a0a0a0" stroke-width="0.8" />
<line x1="267.31" y1="647.0" x2="267.31" y2="649.5" stroke="#a0a0a0" stroke-width="0.8" />
<line x1="277.4" y1="647.0" x2="277.4" y2="649.5" stroke="#a0a0a0" stroke-width="0.8" />
<line x1="287.49" y1="647.0" x2="287.49" y2="649.5" stroke="#a0a0a0" stroke-width="0.8" />
<line x1="297.58" y1="647.0" x2="297.58" y2="649.5" stroke="#a0a0a0" stroke-width="0.8" />
<line x1="307.66999999999996" y1="647.0" x2="307.66999999999996" y2="649.5" stroke="#a0a0a0" stroke-width="0.8" />
<line x1="317.76" y1="647.0" x2="317.76" y2="649.5" stroke="#a0a0a0" stroke-width="0.8" />
<line x1="327.85" y1="647.0" x2="327.85" y2="649.5" stroke="#a0a0a0" stroke-width="0.8" />
<line x1="337.93999999999994" y1="647.0" x2="337.93999999999994" y2="649.5" stroke="#a0a0a0" stroke-width="0.8" />
<line x1="348.03" y1="647.0" x2="348.03" y2="649.5" stroke="#a0a0a0" stroke-width="0.8" />
<line x1="358.12" y1="647.0" x2="358.12" y2="649.5" stroke="#a0a0a0" stroke-width="0.8" />
<line x1="368.21000000000004" y1="647.0" x2="368.21000000000004" y2="649.5" stroke="#a0a0a0" stroke-width="0.8" />
<line x1="378.29999999999995" y1="647.0" x2="378.29999999999995" y2="649.5" stroke="#a0a0a0" stroke-width="0.8" />
<line x1="388.39" y1="647.0" x2="388.39" y2="649.5" stroke="#a0a0a0" stroke-width="0.8" />
<line x1="398.48" y1="647.0" x2="398.48" y2="649.5" stroke="#a0a0a0" stroke-width="0.8" />
<line x1="408.56999999999994" y1="647.0" x2="408.56999999999994" y2="649.5" stroke="#a0a0a0" stroke-width="0.8" />
<line x1="418.65999999999997" y1="647.0" x2="418.65999999999997" y2="649.5" stroke="#a0a0a0" stroke-width="0.8" />
<line x1="428.75" y1="647.0" x2="428.75" y2="649.5" stroke="#a0a0a0" stroke-width="0.8" />
<line x1="438.84000000000003" y1="647.0" x2="438.84000000000003" y2="649.5" stroke="#a0a0a0" stroke-width="0.8" />
<line x1="448.92999999999995" y1="647.0" x2="448.92999999999995" y2="649.5" stroke="#a0a0a0" stroke-width="0.8" />
<line x1="459.02" y1="647.0" x2="459.02" y2="649.5" stroke="#a0a0a0" stroke-width="0.8" />
<line x1="469.11" y1="647.0" x2="469.11" y2="649.5" stroke="#a0a0a0" stroke-width="0.8" />
<text transform="translate(83.20,651.8) rotate(-90)" font-size="6.95" text-anchor="end" fill="#111">L5-02</text>
<text transform="translate(93.29,651.8) rotate(-90)" font-size="6.95" text-anchor="end" fill="#111">L5-05</text>
<text transform="translate(103.38,651.8) rotate(-90)" font-size="6.95" text-anchor="end" fill="#111">L5-17</text>
<text transform="translate(113.47,651.8) rotate(-90)" font-size="6.95" text-anchor="end" fill="#111">L5-19</text>
<text transform="translate(123.56,651.8) rotate(-90)" font-size="6.95" text-anchor="end" fill="#111">L5-28</text>
<text transform="translate(133.65,651.8) rotate(-90)" font-size="6.95" text-anchor="end" fill="#111">L11-06</text>
<text transform="translate(143.74,651.8) rotate(-90)" font-size="6.95" text-anchor="end" fill="#111">L11-20</text>
<text transform="translate(153.83,651.8) rotate(-90)" font-size="6.95" text-anchor="end" fill="#111">L11-22</text>
<text transform="translate(163.92,651.8) rotate(-90)" font-size="6.95" text-anchor="end" fill="#111">L35A-01</text>
<text transform="translate(174.01,651.8) rotate(-90)" font-size="6.95" text-anchor="end" fill="#111">L35A-07</text>
<text transform="translate(184.10,651.8) rotate(-90)" font-size="6.95" text-anchor="end" fill="#111">L35A-17</text>
<text transform="translate(194.19,651.8) rotate(-90)" font-size="6.95" text-anchor="end" fill="#111">L35A-18</text>
<text transform="translate(204.28,651.8) rotate(-90)" font-size="6.95" text-anchor="end" fill="#111">S10-03</text>
<text transform="translate(214.37,651.8) rotate(-90)" font-size="6.95" text-anchor="end" fill="#111">S10-15</text>
<text transform="translate(224.46,651.8) rotate(-90)" font-size="6.95" text-anchor="end" fill="#111">S10-17</text>
<text transform="translate(234.55,651.8) rotate(-90)" font-size="6.95" text-anchor="end" fill="#111">S14-03</text>
<text transform="translate(244.64,651.8) rotate(-90)" font-size="6.95" text-anchor="end" fill="#111">S14-05</text>
<text transform="translate(254.73,651.8) rotate(-90)" font-size="6.95" text-anchor="end" fill="#111">S14-06</text>
<text transform="translate(264.82,651.8) rotate(-90)" font-size="6.95" text-anchor="end" fill="#111">S14-09</text>
<text transform="translate(274.91,651.8) rotate(-90)" font-size="6.95" text-anchor="end" fill="#111">S14-13</text>
<text transform="translate(285.00,651.8) rotate(-90)" font-size="6.95" text-anchor="end" fill="#111">S14-15</text>
<text transform="translate(295.09,651.8) rotate(-90)" font-size="6.95" text-anchor="end" fill="#111">S14-19</text>
<text transform="translate(305.18,651.8) rotate(-90)" font-size="6.95" text-anchor="end" fill="#111">S17-03</text>
<text transform="translate(315.27,651.8) rotate(-90)" font-size="6.95" text-anchor="end" fill="#111">S17-12</text>
<text transform="translate(325.36,651.8) rotate(-90)" font-size="6.95" text-anchor="end" fill="#111">S17-16</text>
<text transform="translate(335.45,651.8) rotate(-90)" font-size="6.95" text-anchor="end" fill="#111">S17-20</text>
<text transform="translate(345.54,651.8) rotate(-90)" font-size="6.95" text-anchor="end" fill="#111">S19-36</text>
<text transform="translate(355.63,651.8) rotate(-90)" font-size="6.95" text-anchor="end" fill="#111">S19-40</text>
<text transform="translate(365.72,651.8) rotate(-90)" font-size="6.95" text-anchor="end" fill="#111">S19-58</text>
<text transform="translate(375.81,651.8) rotate(-90)" font-size="6.95" text-anchor="end" fill="#111">S19-62</text>
<text transform="translate(385.90,651.8) rotate(-90)" font-size="6.95" text-anchor="end" fill="#111">S24-17</text>
<text transform="translate(395.99,651.8) rotate(-90)" font-size="6.95" text-anchor="end" fill="#111">S24-20</text>
<text transform="translate(406.08,651.8) rotate(-90)" font-size="6.95" text-anchor="end" fill="#111">S24-32</text>
<text transform="translate(416.17,651.8) rotate(-90)" font-size="6.95" text-anchor="end" fill="#111">S26-3</text>
<text transform="translate(426.26,651.8) rotate(-90)" font-size="6.95" text-anchor="end" fill="#111">S26-5</text>
<text transform="translate(436.35,651.8) rotate(-90)" font-size="6.95" text-anchor="end" fill="#111">S7-11</text>
<text transform="translate(446.44,651.8) rotate(-90)" font-size="6.95" text-anchor="end" fill="#111">S7-12</text>
<text transform="translate(456.53,651.8) rotate(-90)" font-size="6.95" text-anchor="end" fill="#111">S7-16</text>
<text transform="translate(466.62,651.8) rotate(-90)" font-size="6.95" text-anchor="end" fill="#111">DW</text>
<polygon points="80.90,597.60 84.80,601.50 80.90,605.40 77.00,601.50" fill="#000" />
<polygon points="90.99,603.10 94.89,607.00 90.99,610.90 87.09,607.00" fill="#000" />
<polygon points="101.08,590.70 104.98,594.60 101.08,598.50 97.18,594.60" fill="#000" />
<polygon points="111.17,604.50 115.07,608.40 111.17,612.30 107.27,608.40" fill="#000" />
<polygon points="121.26,594.60 125.16,598.50 121.26,602.40 117.36,598.50" fill="#000" />
<polygon points="131.35,632.00 135.25,635.90 131.35,639.80 127.45,635.90" fill="#000" />
<polygon points="141.44,623.50 145.34,627.40 141.44,631.30 137.54,627.40" fill="#000" />
<polygon points="151.53,629.70 155.43,633.60 151.53,637.50 147.63,633.60" fill="#000" />
<polygon points="161.62,624.60 165.52,628.50 161.62,632.40 157.72,628.50" fill="#000" />
<polygon points="171.71,632.00 175.61,635.90 171.71,639.80 167.81,635.90" fill="#000" />
<polygon points="181.80,628.10 185.70,632.00 181.80,635.90 177.90,632.00" fill="#000" />
<polygon points="191.89,629.20 195.79,633.10 191.89,637.00 187.99,633.10" fill="#000" />
<polygon points="201.98,631.50 205.88,635.40 201.98,639.30 198.08,635.40" fill="#000" />
<polygon points="212.07,639.20 215.97,643.10 212.07,647.00 208.17,643.10" fill="#000" />
<polygon points="222.16,630.80 226.06,634.70 222.16,638.60 218.26,634.70" fill="#000" />
<polygon points="232.25,631.50 236.15,635.40 232.25,639.30 228.35,635.40" fill="#000" />
<polygon points="242.34,630.40 246.24,634.30 242.34,638.20 238.44,634.30" fill="#000" />
<polygon points="252.43,630.40 256.33,634.30 252.43,638.20 248.53,634.30" fill="#000" />
<polygon points="262.52,628.80 266.42,632.70 262.52,636.60 258.62,632.70" fill="#000" />
<polygon points="272.61,633.40 276.51,637.30 272.61,641.20 268.71,637.30" fill="#000" />
<polygon points="282.70,625.10 286.60,629.00 282.70,632.90 278.80,629.00" fill="#000" />
<polygon points="292.79,629.70 296.69,633.60 292.79,637.50 288.89,633.60" fill="#000" />
<polygon points="302.88,623.90 306.78,627.80 302.88,631.70 298.98,627.80" fill="#000" />
<polygon points="312.97,635.70 316.87,639.60 312.97,643.50 309.07,639.60" fill="#000" />
<polygon points="323.06,637.30 326.96,641.20 323.06,645.10 319.16,641.20" fill="#000" />
<polygon points="333.15,636.80 337.05,640.70 333.15,644.60 329.25,640.70" fill="#000" />
<polygon points="343.24,634.50 347.14,638.40 343.24,642.30 339.34,638.40" fill="#000" />
<polygon points="353.33,633.80 357.23,637.70 353.33,641.60 349.43,637.70" fill="#000" />
<polygon points="363.42,626.50 367.32,630.40 363.42,634.30 359.52,630.40" fill="#000" />
<polygon points="373.51,624.10 377.41,628.00 373.51,631.90 369.61,628.00" fill="#000" />
<polygon points="383.60,637.30 387.50,641.20 383.60,645.10 379.70,641.20" fill="#000" />
<polygon points="393.69,625.80 397.59,629.70 393.69,633.60 389.79,629.70" fill="#000" />
<polygon points="403.78,623.00 407.68,626.90 403.78,630.80 399.88,626.90" fill="#000" />
<polygon points="413.87,629.90 417.77,633.80 413.87,637.70 409.97,633.80" fill="#000" />
<polygon points="423.96,641.20 427.86,645.10 423.96,649.00 420.06,645.10" fill="#000" />
<polygon points="434.05,633.80 437.95,637.70 434.05,641.60 430.15,637.70" fill="#000" />
<polygon points="444.14,626.50 448.04,630.40 444.14,634.30 440.24,630.40" fill="#000" />
<polygon points="454.23,628.10 458.13,632.00 454.23,635.90 450.33,632.00" fill="#000" />
<text x="68.3" y="594.3000000000001" font-size="8.9" font-weight="normal" font-style="normal" text-anchor="end" fill="#333" >28</text>
<text x="68.3" y="622.5" font-size="8.9" font-weight="normal" font-style="normal" text-anchor="end" fill="#333" >27</text>
<text x="68.3" y="650.1" font-size="8.9" font-weight="normal" font-style="normal" text-anchor="end" fill="#333" >26</text>
<text transform="translate(47,641) rotate(-90)" font-size="8.5" font-weight="bold" stroke="#000" stroke-width="0.18">Ct (cycles)</text>
<text x="257.8" y="580.7" font-size="9.6" font-weight="bold" font-style="normal" text-anchor="start" fill="#000" stroke="#000" stroke-width="0.18" >DBA#03</text>
<text x="393.8" y="582.6" font-size="7.5" font-weight="normal" font-style="normal" text-anchor="start" fill="#000" >**</text>
<text x="411.5" y="582.3" font-size="6.8" font-weight="normal" font-style="normal" text-anchor="start" fill="#000" >P &lt; 0.001</text>
<line x1="76.5" y1="585.8" x2="124.3" y2="585.8" stroke="#000" stroke-width="1.3" />
<line x1="76.5" y1="585.2" x2="76.5" y2="589.4" stroke="#000" stroke-width="1.3" />
<line x1="124.3" y1="585.2" x2="124.3" y2="589.4" stroke="#000" stroke-width="1.3" />
<line x1="127.3" y1="585.8" x2="456.6" y2="585.8" stroke="#000" stroke-width="1.3" />
<line x1="127.3" y1="585.2" x2="127.3" y2="589.4" stroke="#000" stroke-width="1.3" />
<line x1="456.6" y1="585.2" x2="456.6" y2="589.4" stroke="#000" stroke-width="1.3" />
<line x1="100.7" y1="577.7" x2="152.4" y2="577.7" stroke="#000" stroke-width="1.3" />
<line x1="100.7" y1="577.1" x2="100.7" y2="585.8" stroke="#000" stroke-width="1.3" />
<line x1="152.4" y1="577.1" x2="152.4" y2="585.8" stroke="#000" stroke-width="1.3" />
<rect x="76.5" y="675.4" width="47.8" height="3" fill="#000" />
<line x1="475.8" y1="594.3" x2="484.3" y2="594.3" stroke="#000" stroke-width="1.4" />
<line x1="475.8" y1="619.7" x2="484.3" y2="619.7" stroke="#000" stroke-width="1.4" />
<line x1="475.8" y1="646.3" x2="484.3" y2="646.3" stroke="#000" stroke-width="1.4" />
<line x1="479.7" y1="598.9599999999999" x2="479.7" y2="615.0400000000001" stroke="#000" stroke-width="1.5" />
<polygon points="479.70,594.80 476.90,600.00 482.50,600.00" fill="#000" />
<polygon points="479.70,619.20 476.90,614.00 482.50,614.00" fill="#000" />
<line x1="479.7" y1="624.36" x2="479.7" y2="641.64" stroke="#000" stroke-width="1.5" />
<polygon points="479.70,620.20 476.90,625.40 482.50,625.40" fill="#000" />
<polygon points="479.70,645.80 476.90,640.60 482.50,640.60" fill="#000" />
<text x="492.4" y="611.4" font-size="8.8" font-weight="bold" font-style="normal" text-anchor="start" fill="#000" stroke="#000" stroke-width="0.18" >N</text>
<text x="492.0" y="637.5" font-size="8.8" font-weight="bold" font-style="normal" text-anchor="start" fill="#000" stroke="#000" stroke-width="0.18" >2N</text>
</svg>
</body></html>
